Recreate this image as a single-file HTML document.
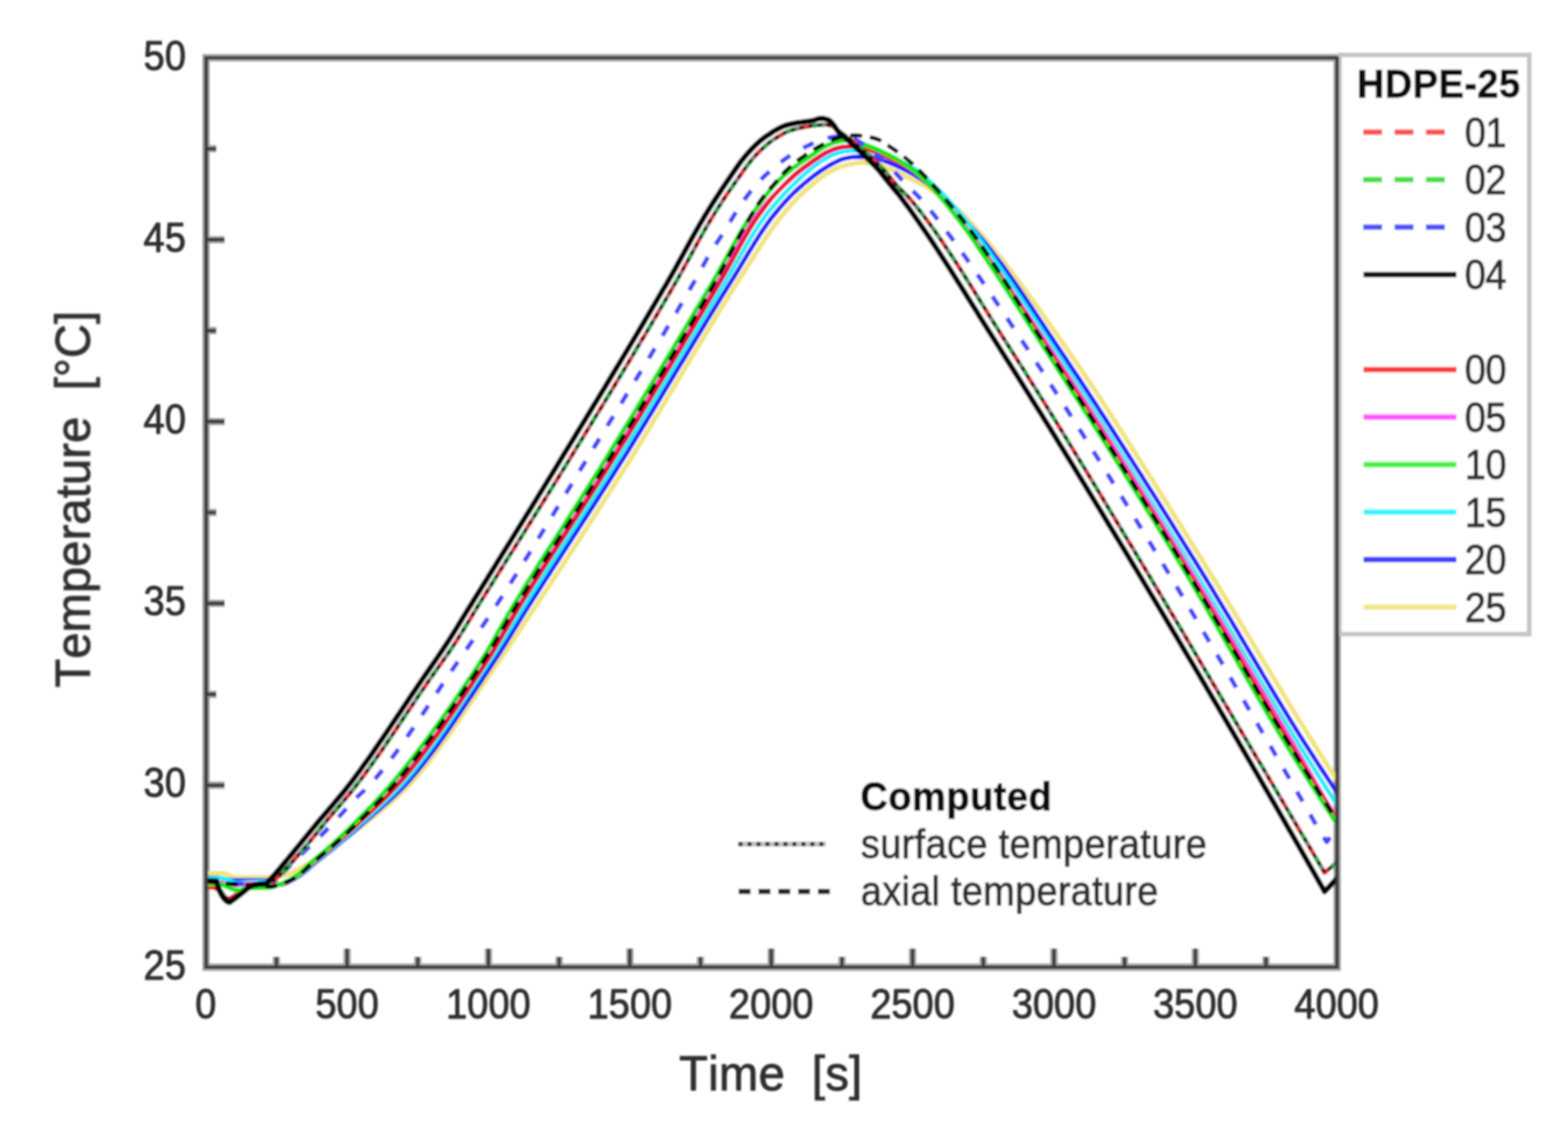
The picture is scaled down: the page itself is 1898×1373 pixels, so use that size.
<!DOCTYPE html>
<html lang="en">
<head>
<meta charset="utf-8">
<title>HDPE-25 temperature vs. time</title>
<style>
html,body{margin:0;padding:0;background:#fff;}
body{width:1898px;height:1373px;overflow:hidden;}
svg{display:block;}
svg text{font-family:"Liberation Sans",sans-serif;font-size:46px;fill:#2e2e2e;stroke:#2e2e2e;stroke-width:1.0px;stroke-linejoin:round;font-kerning:none;}
svg text.b{font-weight:bold;fill:#101010;stroke:#101010;stroke-width:0.8px;}
svg text.t{font-size:57px;}
.curves path{fill:none;stroke-linejoin:round;}
</style>
</head>
<body>
<svg width="1898" height="1373" viewBox="0 0 1898 1373">
<defs>
<clipPath id="plotclip"><rect x="249.5" y="65.0" width="1370.0" height="1106.0"/></clipPath>
<filter id="soft" x="-2%" y="-2%" width="104%" height="104%"><feGaussianBlur stdDeviation="1.25"/></filter>
</defs>
<rect x="0" y="0" width="1898" height="1373" fill="#fff"/>
<g filter="url(#soft)">
<g class="frame">
<rect x="249.5" y="70.0" width="1369.0" height="1101.0" fill="#fff" stroke="none"/>
<path d="M249.5 70.0 H1618.5 V1171.0 H249.5 Z M334.6 1171.0 v-12.5 M420.1 1171.0 v-22.5 M505.7 1171.0 v-12.5 M591.2 1171.0 v-22.5 M676.8 1171.0 v-12.5 M762.4 1171.0 v-22.5 M847.9 1171.0 v-12.5 M933.5 1171.0 v-22.5 M1019.1 1171.0 v-12.5 M1104.6 1171.0 v-22.5 M1190.2 1171.0 v-12.5 M1275.8 1171.0 v-22.5 M1361.3 1171.0 v-12.5 M1446.9 1171.0 v-22.5 M1532.4 1171.0 v-12.5 M249.5 1060.9 h12.5 M249.5 950.8 h22.5 M249.5 840.7 h12.5 M249.5 730.6 h22.5 M249.5 620.5 h12.5 M249.5 510.4 h22.5 M249.5 400.3 h12.5 M249.5 290.2 h22.5 M249.5 180.1 h12.5" stroke="#a2a2a2" stroke-width="9.0" fill="none"/>
<path d="M334.6 1171.0 v-12.5 M420.1 1171.0 v-22.5 M505.7 1171.0 v-12.5 M591.2 1171.0 v-22.5 M676.8 1171.0 v-12.5 M762.4 1171.0 v-22.5 M847.9 1171.0 v-12.5 M933.5 1171.0 v-22.5 M1019.1 1171.0 v-12.5 M1104.6 1171.0 v-22.5 M1190.2 1171.0 v-12.5 M1275.8 1171.0 v-22.5 M1361.3 1171.0 v-12.5 M1446.9 1171.0 v-22.5 M1532.4 1171.0 v-12.5 M249.5 1060.9 h12.5 M249.5 950.8 h22.5 M249.5 840.7 h12.5 M249.5 730.6 h22.5 M249.5 620.5 h12.5 M249.5 510.4 h22.5 M249.5 400.3 h12.5 M249.5 290.2 h22.5 M249.5 180.1 h12.5" stroke="#3a3a3a" stroke-width="4.2" fill="none"/>
</g>
<g class="legend">
<rect x="1621.5" y="66.5" width="229.5" height="701.3" fill="#fff" stroke="#c4c4c4" stroke-width="5.4"/>
<text transform="translate(1642.5 118.0) scale(1 1.035)" class="b" style="letter-spacing:0.55px">HDPE-25</text>
<path d="M1650 160.0 H1750" stroke="#ff5050" stroke-width="6.6" stroke-dasharray="23 15" fill="none"/>
<text transform="translate(1773.0 177.6) scale(1 1.085)" style="letter-spacing:-0.50px">01</text>
<path d="M1650 217.5 H1750" stroke="#44e044" stroke-width="6.6" stroke-dasharray="23 15" fill="none"/>
<text transform="translate(1773.0 235.1) scale(1 1.085)" style="letter-spacing:-0.50px">02</text>
<path d="M1650 275.0 H1750" stroke="#5050ff" stroke-width="6.6" stroke-dasharray="23 15" fill="none"/>
<text transform="translate(1773.0 292.6) scale(1 1.085)" style="letter-spacing:-0.50px">03</text>
<path d="M1650.5 332.5 H1763" stroke="#141414" stroke-width="6.6" fill="none"/>
<text transform="translate(1773.0 350.1) scale(1 1.085)" style="letter-spacing:-0.50px">04</text>
<path d="M1650.5 447.5 H1763" stroke="#ff3c3c" stroke-width="6.6" fill="none"/>
<text transform="translate(1773.0 465.1) scale(1 1.085)" style="letter-spacing:-0.50px">00</text>
<path d="M1650.5 505.0 H1763" stroke="#ff55ff" stroke-width="6.6" fill="none"/>
<text transform="translate(1773.0 522.6) scale(1 1.085)" style="letter-spacing:-0.50px">05</text>
<path d="M1650.5 562.5 H1763" stroke="#44f244" stroke-width="6.6" fill="none"/>
<text transform="translate(1773.0 580.1) scale(1 1.085)" style="letter-spacing:-0.50px">10</text>
<path d="M1650.5 620.0 H1763" stroke="#38f4ff" stroke-width="6.6" fill="none"/>
<text transform="translate(1773.0 637.6) scale(1 1.085)" style="letter-spacing:-0.50px">15</text>
<path d="M1650.5 677.5 H1763" stroke="#4040ff" stroke-width="6.6" fill="none"/>
<text transform="translate(1773.0 695.1) scale(1 1.085)" style="letter-spacing:-0.50px">20</text>
<path d="M1650.5 735.0 H1763" stroke="#f3e78c" stroke-width="6.6" fill="none"/>
<text transform="translate(1773.0 752.6) scale(1 1.085)" style="letter-spacing:-0.50px">25</text>
</g>
<g class="curves" clip-path="url(#plotclip)">
<path d="M249.5 1057.5 L252.5 1057.5 L255.5 1057.5 L258.5 1057.5 L261.5 1057.5 L264.5 1057.5 L267.5 1057.5 L270.5 1057.5 L273.5 1057.8 L276.5 1059.4 L279.5 1061.2 L282.5 1062.0 L285.5 1062.2 L288.5 1062.3 L291.5 1062.4 L294.5 1062.5 L297.6 1062.5 L300.6 1062.5 L303.6 1062.5 L306.6 1062.5 L309.6 1062.5 L312.6 1062.5 L315.6 1062.5 L318.6 1062.5 L321.6 1062.5 L324.6 1062.5 L327.6 1062.3 L330.6 1062.0 L333.6 1061.6 L336.6 1061.2 L339.6 1060.6 L342.6 1060.0 L345.6 1059.4 L348.6 1058.7 L351.6 1057.7 L354.6 1056.4 L357.6 1054.8 L360.6 1053.0 L363.6 1051.2 L366.6 1049.5 L369.6 1047.8 L372.6 1046.1 L375.6 1044.3 L378.6 1042.5 L381.6 1040.6 L384.6 1038.7 L387.7 1036.8 L390.7 1034.7 L393.7 1032.6 L396.7 1030.5 L399.7 1028.3 L402.7 1026.2 L405.7 1024.0 L408.7 1021.9 L411.7 1019.8 L414.7 1017.6 L417.7 1015.5 L420.7 1013.3 L423.7 1011.1 L426.7 1008.9 L429.7 1006.6 L432.7 1004.4 L435.7 1002.1 L438.7 999.8 L441.7 997.4 L444.7 995.0 L447.7 992.6 L450.7 990.2 L453.7 987.7 L456.7 985.3 L459.7 982.8 L462.7 980.3 L465.7 977.8 L468.7 975.2 L471.7 972.6 L474.7 970.0 L477.7 967.3 L480.8 964.5 L483.8 961.7 L486.8 958.8 L489.8 955.9 L492.8 952.8 L495.8 949.7 L498.8 946.5 L501.8 943.2 L504.8 939.8 L507.8 936.3 L510.8 932.7 L513.8 929.1 L516.8 925.4 L519.8 921.6 L522.8 917.7 L525.8 913.8 L528.8 909.8 L531.8 905.7 L534.8 901.6 L537.8 897.4 L540.8 893.2 L543.8 889.0 L546.8 884.7 L549.8 880.4 L552.8 876.0 L555.8 871.6 L558.8 867.2 L561.8 862.8 L564.8 858.3 L567.8 853.8 L570.9 849.4 L573.9 844.9 L576.9 840.4 L579.9 835.9 L582.9 831.4 L585.9 826.9 L588.9 822.5 L591.9 818.0 L594.9 813.6 L597.9 809.2 L600.9 804.8 L603.9 800.5 L606.9 796.1 L609.9 791.7 L612.9 787.3 L615.9 782.9 L618.9 778.4 L621.9 774.0 L624.9 769.5 L627.9 765.0 L630.9 760.4 L633.9 755.9 L636.9 751.4 L639.9 746.8 L642.9 742.2 L645.9 737.7 L648.9 733.1 L651.9 728.6 L654.9 724.0 L657.9 719.4 L660.9 714.9 L664.0 710.3 L667.0 705.7 L670.0 701.1 L673.0 696.5 L676.0 691.9 L679.0 687.3 L682.0 682.7 L685.0 678.1 L688.0 673.5 L691.0 668.9 L694.0 664.2 L697.0 659.6 L700.0 655.0 L703.0 650.3 L706.0 645.7 L709.0 641.0 L712.0 636.4 L715.0 631.7 L718.0 627.0 L721.0 622.3 L724.0 617.6 L727.0 612.9 L730.0 608.2 L733.0 603.5 L736.0 598.8 L739.0 594.1 L742.0 589.3 L745.0 584.6 L748.0 579.8 L751.0 575.1 L754.1 570.3 L757.1 565.5 L760.1 560.7 L763.1 555.9 L766.1 551.1 L769.1 546.2 L772.1 541.3 L775.1 536.4 L778.1 531.5 L781.1 526.6 L784.1 521.6 L787.1 516.6 L790.1 511.6 L793.1 506.6 L796.1 501.6 L799.1 496.6 L802.1 491.6 L805.1 486.5 L808.1 481.5 L811.1 476.4 L814.1 471.4 L817.1 466.3 L820.1 461.2 L823.1 456.2 L826.1 451.1 L829.1 446.1 L832.1 441.0 L835.1 435.9 L838.1 430.9 L841.1 425.9 L844.1 420.8 L847.2 415.8 L850.2 410.8 L853.2 405.8 L856.2 400.8 L859.2 395.8 L862.2 390.9 L865.2 385.9 L868.2 381.0 L871.2 376.1 L874.2 371.2 L877.2 366.4 L880.2 361.6 L883.2 356.8 L886.2 352.0 L889.2 347.2 L892.2 342.5 L895.2 337.8 L898.2 333.1 L901.2 328.3 L904.2 323.5 L907.2 318.7 L910.2 313.9 L913.2 309.2 L916.2 304.4 L919.2 299.7 L922.2 295.1 L925.2 290.5 L928.2 286.0 L931.2 281.6 L934.2 277.3 L937.3 273.1 L940.3 269.0 L943.3 265.1 L946.3 261.3 L949.3 257.6 L952.3 254.0 L955.3 250.6 L958.3 247.2 L961.3 243.9 L964.3 240.8 L967.3 237.8 L970.3 234.9 L973.3 232.1 L976.3 229.5 L979.3 226.8 L982.3 224.2 L985.3 221.7 L988.3 219.2 L991.3 216.8 L994.3 214.6 L997.3 212.4 L1000.3 210.4 L1003.3 208.6 L1006.3 206.9 L1009.3 205.4 L1012.3 204.1 L1015.3 202.8 L1018.3 201.7 L1021.3 200.7 L1024.3 199.9 L1027.4 199.2 L1030.4 198.6 L1033.4 198.0 L1036.4 197.5 L1039.4 197.2 L1042.4 197.0 L1045.4 197.0 L1048.4 197.2 L1051.4 197.4 L1054.4 197.6 L1057.4 198.0 L1060.4 198.7 L1063.4 199.6 L1066.4 200.7 L1069.4 201.8 L1072.4 202.9 L1075.4 204.0 L1078.4 205.2 L1081.4 206.5 L1084.4 207.8 L1087.4 209.2 L1090.4 210.6 L1093.4 212.1 L1096.4 213.6 L1099.4 215.2 L1102.4 216.7 L1105.4 218.2 L1108.4 219.7 L1111.4 221.1 L1114.4 222.6 L1117.4 224.1 L1120.5 225.6 L1123.5 227.3 L1126.5 229.1 L1129.5 231.0 L1132.5 233.0 L1135.5 235.1 L1138.5 237.2 L1141.5 239.3 L1144.5 241.5 L1147.5 243.8 L1150.5 246.1 L1153.5 248.5 L1156.5 251.0 L1159.5 253.6 L1162.5 256.4 L1165.5 259.3 L1168.5 262.4 L1171.5 265.6 L1174.5 269.0 L1177.5 272.4 L1180.5 275.9 L1183.5 279.3 L1186.5 282.7 L1189.5 286.0 L1192.5 289.3 L1195.5 292.7 L1198.5 296.3 L1201.5 300.0 L1204.5 303.7 L1207.5 307.4 L1210.6 311.1 L1213.6 315.0 L1216.6 318.8 L1219.6 322.7 L1222.6 326.6 L1225.6 330.5 L1228.6 334.5 L1231.6 338.5 L1234.6 342.5 L1237.6 346.6 L1240.6 350.7 L1243.6 354.8 L1246.6 358.9 L1249.6 363.1 L1252.6 367.2 L1255.6 371.4 L1258.6 375.6 L1261.6 379.9 L1264.6 384.1 L1267.6 388.4 L1270.6 392.6 L1273.6 396.9 L1276.6 401.2 L1279.6 405.5 L1282.6 409.8 L1285.6 414.1 L1288.6 418.5 L1291.6 422.8 L1294.6 427.1 L1297.6 431.5 L1300.6 435.9 L1303.7 440.3 L1306.7 444.7 L1309.7 449.2 L1312.7 453.7 L1315.7 458.1 L1318.7 462.6 L1321.7 467.2 L1324.7 471.7 L1327.7 476.3 L1330.7 480.8 L1333.7 485.4 L1336.7 490.0 L1339.7 494.6 L1342.7 499.2 L1345.7 503.9 L1348.7 508.5 L1351.7 513.2 L1354.7 517.9 L1357.7 522.6 L1360.7 527.3 L1363.7 532.0 L1366.7 536.7 L1369.7 541.4 L1372.7 546.2 L1375.7 550.9 L1378.7 555.7 L1381.7 560.4 L1384.7 565.2 L1387.7 570.0 L1390.7 574.8 L1393.8 579.6 L1396.8 584.4 L1399.8 589.2 L1402.8 594.0 L1405.8 598.8 L1408.8 603.6 L1411.8 608.4 L1414.8 613.3 L1417.8 618.1 L1420.8 622.9 L1423.8 627.7 L1426.8 632.6 L1429.8 637.4 L1432.8 642.2 L1435.8 647.1 L1438.8 651.9 L1441.8 656.7 L1444.8 661.5 L1447.8 666.4 L1450.8 671.2 L1453.8 676.0 L1456.8 680.8 L1459.8 685.7 L1462.8 690.5 L1465.8 695.4 L1468.8 700.2 L1471.8 705.1 L1474.8 710.0 L1477.8 714.9 L1480.8 719.9 L1483.8 724.8 L1486.9 729.8 L1489.9 734.7 L1492.9 739.7 L1495.9 744.7 L1498.9 749.6 L1501.9 754.6 L1504.9 759.6 L1507.9 764.6 L1510.9 769.6 L1513.9 774.6 L1516.9 779.6 L1519.9 784.7 L1522.9 789.7 L1525.9 794.7 L1528.9 799.7 L1531.9 804.7 L1534.9 809.7 L1537.9 814.7 L1540.9 819.7 L1543.9 824.7 L1546.9 829.7 L1549.9 834.6 L1552.9 839.6 L1555.9 844.6 L1558.9 849.5 L1561.9 854.5 L1564.9 859.4 L1567.9 864.3 L1570.9 869.2 L1573.9 874.1 L1577.0 879.0 L1580.0 883.8 L1583.0 888.7 L1586.0 893.5 L1589.0 898.3 L1592.0 903.1 L1595.0 907.9 L1598.0 912.7 L1601.0 917.4 L1604.0 922.2 L1607.0 926.9 L1610.0 931.5 L1613.0 936.2 L1616.0 940.8 L1619.0 945.3 L1622.0 949.8" stroke="#f2e47e" stroke-width="5.8" stroke-linecap="butt"/>
<path d="M249.5 1062.5 L252.5 1062.5 L255.5 1062.6 L258.5 1062.8 L261.5 1063.0 L264.5 1063.2 L267.5 1063.7 L270.5 1064.2 L273.5 1064.7 L276.5 1065.2 L279.5 1065.5 L282.5 1065.6 L285.5 1065.7 L288.5 1065.8 L291.5 1065.9 L294.5 1066.0 L297.6 1066.0 L300.6 1066.0 L303.6 1066.0 L306.6 1066.0 L309.6 1066.0 L312.6 1066.0 L315.6 1066.0 L318.6 1066.0 L321.6 1066.0 L324.6 1066.0 L327.6 1066.0 L330.6 1067.0 L333.6 1068.8 L336.6 1070.4 L339.6 1071.0 L342.6 1070.7 L345.6 1069.8 L348.6 1068.6 L351.6 1067.0 L354.6 1065.3 L357.6 1063.6 L360.6 1061.8 L363.6 1059.9 L366.6 1057.7 L369.6 1055.3 L372.6 1052.7 L375.6 1050.1 L378.6 1047.4 L381.6 1044.9 L384.6 1042.5 L387.7 1040.1 L390.7 1037.7 L393.7 1035.3 L396.7 1033.0 L399.7 1030.6 L402.7 1028.2 L405.7 1025.8 L408.7 1023.3 L411.7 1020.8 L414.7 1018.3 L417.7 1015.8 L420.7 1013.3 L423.7 1010.7 L426.7 1008.1 L429.7 1005.5 L432.7 1002.9 L435.7 1000.2 L438.7 997.6 L441.7 994.9 L444.7 992.3 L447.7 989.7 L450.7 987.1 L453.7 984.5 L456.7 982.0 L459.7 979.4 L462.7 976.8 L465.7 974.1 L468.7 971.5 L471.7 968.8 L474.7 966.0 L477.7 963.2 L480.8 960.3 L483.8 957.3 L486.8 954.3 L489.8 951.1 L492.8 947.9 L495.8 944.5 L498.8 941.1 L501.8 937.6 L504.8 934.0 L507.8 930.4 L510.8 926.7 L513.8 922.9 L516.8 919.0 L519.8 915.1 L522.8 911.2 L525.8 907.1 L528.8 903.1 L531.8 898.9 L534.8 894.7 L537.8 890.5 L540.8 886.2 L543.8 881.9 L546.8 877.6 L549.8 873.2 L552.8 868.8 L555.8 864.4 L558.8 859.9 L561.8 855.4 L564.8 850.9 L567.8 846.4 L570.9 841.9 L573.9 837.3 L576.9 832.8 L579.9 828.2 L582.9 823.7 L585.9 819.1 L588.9 814.5 L591.9 810.0 L594.9 805.5 L597.9 800.9 L600.9 796.4 L603.9 791.8 L606.9 787.1 L609.9 782.3 L612.9 777.5 L615.9 772.7 L618.9 767.8 L621.9 762.9 L624.9 758.0 L627.9 753.1 L630.9 748.3 L633.9 743.4 L636.9 738.6 L639.9 733.9 L642.9 729.1 L645.9 724.4 L648.9 719.7 L651.9 715.0 L654.9 710.3 L657.9 705.6 L660.9 700.9 L664.0 696.3 L667.0 691.6 L670.0 686.9 L673.0 682.3 L676.0 677.7 L679.0 673.0 L682.0 668.4 L685.0 663.7 L688.0 659.1 L691.0 654.5 L694.0 649.8 L697.0 645.2 L700.0 640.6 L703.0 635.9 L706.0 631.3 L709.0 626.7 L712.0 622.0 L715.0 617.3 L718.0 612.7 L721.0 608.0 L724.0 603.3 L727.0 598.6 L730.0 593.9 L733.0 589.2 L736.0 584.5 L739.0 579.8 L742.0 575.0 L745.0 570.3 L748.0 565.5 L751.0 560.7 L754.1 555.9 L757.1 551.1 L760.1 546.3 L763.1 541.4 L766.1 536.5 L769.1 531.6 L772.1 526.7 L775.1 521.8 L778.1 516.9 L781.1 512.0 L784.1 507.0 L787.1 502.1 L790.1 497.1 L793.1 492.2 L796.1 487.2 L799.1 482.2 L802.1 477.2 L805.1 472.2 L808.1 467.2 L811.1 462.2 L814.1 457.2 L817.1 452.2 L820.1 447.2 L823.1 442.2 L826.1 437.3 L829.1 432.3 L832.1 427.3 L835.1 422.3 L838.1 417.3 L841.1 412.3 L844.1 407.3 L847.2 402.4 L850.2 397.4 L853.2 392.5 L856.2 387.5 L859.2 382.6 L862.2 377.7 L865.2 372.8 L868.2 367.9 L871.2 363.0 L874.2 358.2 L877.2 353.3 L880.2 348.5 L883.2 343.7 L886.2 338.9 L889.2 334.0 L892.2 329.1 L895.2 324.2 L898.2 319.2 L901.2 314.2 L904.2 309.2 L907.2 304.2 L910.2 299.3 L913.2 294.4 L916.2 289.6 L919.2 284.9 L922.2 280.3 L925.2 275.9 L928.2 271.6 L931.2 267.4 L934.2 263.4 L937.3 259.7 L940.3 256.0 L943.3 252.4 L946.3 248.9 L949.3 245.5 L952.3 242.2 L955.3 239.0 L958.3 236.0 L961.3 233.0 L964.3 230.2 L967.3 227.5 L970.3 224.9 L973.3 222.3 L976.3 219.9 L979.3 217.4 L982.3 215.0 L985.3 212.7 L988.3 210.5 L991.3 208.3 L994.3 206.3 L997.3 204.3 L1000.3 202.4 L1003.3 200.6 L1006.3 198.9 L1009.3 197.3 L1012.3 195.8 L1015.3 194.3 L1018.3 193.1 L1021.3 192.2 L1024.3 191.5 L1027.4 190.9 L1030.4 190.4 L1033.4 190.1 L1036.4 190.0 L1039.4 190.0 L1042.4 190.1 L1045.4 190.1 L1048.4 190.2 L1051.4 190.4 L1054.4 190.7 L1057.4 191.3 L1060.4 192.0 L1063.4 192.8 L1066.4 193.6 L1069.4 194.5 L1072.4 195.5 L1075.4 196.6 L1078.4 197.8 L1081.4 199.1 L1084.4 200.4 L1087.4 201.8 L1090.4 203.2 L1093.4 204.6 L1096.4 206.1 L1099.4 207.7 L1102.4 209.3 L1105.4 211.0 L1108.4 212.8 L1111.4 214.7 L1114.4 216.6 L1117.4 218.6 L1120.5 220.7 L1123.5 222.9 L1126.5 225.2 L1129.5 227.6 L1132.5 230.0 L1135.5 232.5 L1138.5 235.1 L1141.5 237.9 L1144.5 240.6 L1147.5 243.5 L1150.5 246.5 L1153.5 249.6 L1156.5 252.8 L1159.5 256.2 L1162.5 259.6 L1165.5 263.0 L1168.5 266.5 L1171.5 270.0 L1174.5 273.4 L1177.5 276.7 L1180.5 280.1 L1183.5 283.4 L1186.5 286.9 L1189.5 290.4 L1192.5 294.0 L1195.5 297.8 L1198.5 301.6 L1201.5 305.5 L1204.5 309.5 L1207.5 313.5 L1210.6 317.5 L1213.6 321.6 L1216.6 325.8 L1219.6 330.0 L1222.6 334.2 L1225.6 338.5 L1228.6 342.8 L1231.6 347.1 L1234.6 351.5 L1237.6 355.9 L1240.6 360.3 L1243.6 364.8 L1246.6 369.2 L1249.6 373.7 L1252.6 378.2 L1255.6 382.7 L1258.6 387.2 L1261.6 391.7 L1264.6 396.2 L1267.6 400.7 L1270.6 405.2 L1273.6 409.7 L1276.6 414.2 L1279.6 418.7 L1282.6 423.2 L1285.6 427.7 L1288.6 432.1 L1291.6 436.6 L1294.6 441.2 L1297.6 445.7 L1300.6 450.2 L1303.7 454.8 L1306.7 459.3 L1309.7 463.9 L1312.7 468.4 L1315.7 473.0 L1318.7 477.6 L1321.7 482.2 L1324.7 486.8 L1327.7 491.4 L1330.7 496.1 L1333.7 500.7 L1336.7 505.3 L1339.7 510.0 L1342.7 514.6 L1345.7 519.3 L1348.7 524.0 L1351.7 528.7 L1354.7 533.4 L1357.7 538.0 L1360.7 542.7 L1363.7 547.5 L1366.7 552.2 L1369.7 556.9 L1372.7 561.6 L1375.7 566.4 L1378.7 571.1 L1381.7 575.8 L1384.7 580.6 L1387.7 585.4 L1390.7 590.1 L1393.8 594.9 L1396.8 599.7 L1399.8 604.4 L1402.8 609.2 L1405.8 614.0 L1408.8 618.8 L1411.8 623.6 L1414.8 628.4 L1417.8 633.2 L1420.8 638.0 L1423.8 642.8 L1426.8 647.7 L1429.8 652.5 L1432.8 657.3 L1435.8 662.1 L1438.8 667.0 L1441.8 671.8 L1444.8 676.6 L1447.8 681.5 L1450.8 686.3 L1453.8 691.2 L1456.8 696.1 L1459.8 701.0 L1462.8 706.0 L1465.8 710.9 L1468.8 715.9 L1471.8 720.9 L1474.8 725.9 L1477.8 730.9 L1480.8 735.9 L1483.8 741.0 L1486.9 746.0 L1489.9 751.0 L1492.9 756.1 L1495.9 761.2 L1498.9 766.2 L1501.9 771.3 L1504.9 776.4 L1507.9 781.5 L1510.9 786.6 L1513.9 791.6 L1516.9 796.7 L1519.9 801.8 L1522.9 806.8 L1525.9 811.9 L1528.9 817.0 L1531.9 822.0 L1534.9 827.0 L1537.9 832.1 L1540.9 837.1 L1543.9 842.1 L1546.9 847.1 L1549.9 852.0 L1552.9 857.0 L1555.9 861.9 L1558.9 866.9 L1561.9 871.8 L1564.9 876.7 L1567.9 881.5 L1570.9 886.4 L1573.9 891.2 L1577.0 896.0 L1580.0 900.7 L1583.0 905.4 L1586.0 910.1 L1589.0 914.8 L1592.0 919.4 L1595.0 924.1 L1598.0 928.7 L1601.0 933.2 L1604.0 937.8 L1607.0 942.4 L1610.0 946.9 L1613.0 951.4 L1616.0 956.0 L1619.0 960.5 L1622.0 965.0" stroke="#1c1cff" stroke-width="5.3" stroke-linecap="butt"/>
<path d="M249.5 1063.5 L252.5 1063.5 L255.5 1063.5 L258.5 1063.5 L261.5 1063.5 L264.5 1063.5 L267.5 1063.5 L270.5 1063.6 L273.5 1064.3 L276.5 1065.5 L279.5 1066.8 L282.5 1068.1 L285.5 1068.8 L288.5 1069.0 L291.5 1068.8 L294.5 1068.5 L297.6 1068.2 L300.6 1068.0 L303.6 1067.9 L306.6 1067.8 L309.6 1067.7 L312.6 1067.7 L315.6 1067.6 L318.6 1067.6 L321.6 1067.5 L324.6 1067.5 L327.6 1067.5 L330.6 1068.3 L333.6 1069.5 L336.6 1070.7 L339.6 1071.0 L342.6 1070.5 L345.6 1069.6 L348.6 1068.3 L351.6 1066.7 L354.6 1064.9 L357.6 1063.1 L360.6 1061.3 L363.6 1059.2 L366.6 1056.9 L369.6 1054.3 L372.6 1051.6 L375.6 1048.9 L378.6 1046.3 L381.6 1043.8 L384.6 1041.3 L387.7 1038.9 L390.7 1036.5 L393.7 1034.0 L396.7 1031.6 L399.7 1029.2 L402.7 1026.7 L405.7 1024.2 L408.7 1021.7 L411.7 1019.2 L414.7 1016.6 L417.7 1013.9 L420.7 1011.3 L423.7 1008.6 L426.7 1005.9 L429.7 1003.1 L432.7 1000.4 L435.7 997.6 L438.7 994.9 L441.7 992.2 L444.7 989.5 L447.7 986.8 L450.7 984.1 L453.7 981.4 L456.7 978.7 L459.7 976.0 L462.7 973.2 L465.7 970.4 L468.7 967.6 L471.7 964.7 L474.7 961.8 L477.7 958.8 L480.8 955.6 L483.8 952.5 L486.8 949.2 L489.8 945.8 L492.8 942.3 L495.8 938.8 L498.8 935.2 L501.8 931.5 L504.8 927.7 L507.8 923.9 L510.8 920.0 L513.8 916.1 L516.8 912.1 L519.8 908.0 L522.8 903.9 L525.8 899.8 L528.8 895.6 L531.8 891.3 L534.8 887.0 L537.8 882.7 L540.8 878.3 L543.8 873.9 L546.8 869.5 L549.8 865.0 L552.8 860.6 L555.8 856.1 L558.8 851.6 L561.8 847.0 L564.8 842.5 L567.8 837.9 L570.9 833.3 L573.9 828.8 L576.9 824.2 L579.9 819.6 L582.9 815.1 L585.9 810.5 L588.9 805.9 L591.9 801.4 L594.9 796.8 L597.9 792.2 L600.9 787.5 L603.9 782.8 L606.9 778.0 L609.9 773.2 L612.9 768.3 L615.9 763.4 L618.9 758.5 L621.9 753.7 L624.9 748.8 L627.9 743.9 L630.9 739.1 L633.9 734.3 L636.9 729.6 L639.9 724.8 L642.9 720.1 L645.9 715.4 L648.9 710.7 L651.9 706.0 L654.9 701.2 L657.9 696.6 L660.9 691.9 L664.0 687.2 L667.0 682.5 L670.0 677.8 L673.0 673.1 L676.0 668.5 L679.0 663.8 L682.0 659.1 L685.0 654.5 L688.0 649.8 L691.0 645.1 L694.0 640.4 L697.0 635.8 L700.0 631.1 L703.0 626.4 L706.0 621.7 L709.0 617.0 L712.0 612.3 L715.0 607.6 L718.0 602.9 L721.0 598.1 L724.0 593.4 L727.0 588.7 L730.0 583.9 L733.0 579.1 L736.0 574.4 L739.0 569.6 L742.0 564.8 L745.0 559.9 L748.0 555.1 L751.0 550.3 L754.1 545.4 L757.1 540.5 L760.1 535.7 L763.1 530.8 L766.1 525.9 L769.1 521.0 L772.1 516.0 L775.1 511.1 L778.1 506.2 L781.1 501.2 L784.1 496.3 L787.1 491.3 L790.1 486.4 L793.1 481.4 L796.1 476.4 L799.1 471.5 L802.1 466.5 L805.1 461.5 L808.1 456.5 L811.1 451.5 L814.1 446.5 L817.1 441.5 L820.1 436.5 L823.1 431.5 L826.1 426.5 L829.1 421.6 L832.1 416.6 L835.1 411.6 L838.1 406.6 L841.1 401.6 L844.1 396.6 L847.2 391.6 L850.2 386.6 L853.2 381.6 L856.2 376.7 L859.2 371.7 L862.2 366.7 L865.2 361.8 L868.2 356.8 L871.2 351.9 L874.2 346.9 L877.2 342.0 L880.2 337.0 L883.2 332.0 L886.2 326.9 L889.2 321.7 L892.2 316.5 L895.2 311.2 L898.2 306.0 L901.2 300.8 L904.2 295.6 L907.2 290.6 L910.2 285.6 L913.2 280.8 L916.2 276.1 L919.2 271.6 L922.2 267.2 L925.2 263.1 L928.2 259.2 L931.2 255.4 L934.2 251.8 L937.3 248.2 L940.3 244.7 L943.3 241.3 L946.3 237.9 L949.3 234.7 L952.3 231.6 L955.3 228.5 L958.3 225.5 L961.3 222.6 L964.3 219.8 L967.3 217.0 L970.3 214.3 L973.3 211.6 L976.3 209.0 L979.3 206.5 L982.3 204.0 L985.3 201.6 L988.3 199.3 L991.3 197.1 L994.3 195.1 L997.3 193.2 L1000.3 191.4 L1003.3 189.8 L1006.3 188.2 L1009.3 186.9 L1012.3 185.9 L1015.3 185.0 L1018.3 184.2 L1021.3 183.6 L1024.3 183.1 L1027.4 182.9 L1030.4 182.7 L1033.4 182.6 L1036.4 182.5 L1039.4 182.5 L1042.4 182.6 L1045.4 182.9 L1048.4 183.4 L1051.4 184.0 L1054.4 184.6 L1057.4 185.2 L1060.4 186.0 L1063.4 186.8 L1066.4 187.8 L1069.4 188.7 L1072.4 189.8 L1075.4 190.8 L1078.4 191.9 L1081.4 193.0 L1084.4 194.1 L1087.4 195.2 L1090.4 196.3 L1093.4 197.5 L1096.4 198.8 L1099.4 200.2 L1102.4 201.7 L1105.4 203.3 L1108.4 205.1 L1111.4 207.3 L1114.4 209.8 L1117.4 212.4 L1120.5 215.1 L1123.5 217.9 L1126.5 220.6 L1129.5 223.3 L1132.5 226.2 L1135.5 229.1 L1138.5 232.1 L1141.5 235.2 L1144.5 238.3 L1147.5 241.6 L1150.5 244.9 L1153.5 248.3 L1156.5 251.8 L1159.5 255.3 L1162.5 258.9 L1165.5 262.6 L1168.5 266.4 L1171.5 270.2 L1174.5 274.2 L1177.5 278.2 L1180.5 282.3 L1183.5 286.4 L1186.5 290.5 L1189.5 294.7 L1192.5 298.9 L1195.5 303.1 L1198.5 307.3 L1201.5 311.6 L1204.5 315.9 L1207.5 320.2 L1210.6 324.5 L1213.6 328.9 L1216.6 333.2 L1219.6 337.6 L1222.6 342.0 L1225.6 346.5 L1228.6 350.9 L1231.6 355.4 L1234.6 359.8 L1237.6 364.3 L1240.6 368.8 L1243.6 373.3 L1246.6 377.8 L1249.6 382.4 L1252.6 386.9 L1255.6 391.5 L1258.6 396.0 L1261.6 400.6 L1264.6 405.1 L1267.6 409.7 L1270.6 414.2 L1273.6 418.8 L1276.6 423.4 L1279.6 428.0 L1282.6 432.5 L1285.6 437.1 L1288.6 441.7 L1291.6 446.4 L1294.6 451.0 L1297.6 455.6 L1300.6 460.2 L1303.7 464.9 L1306.7 469.5 L1309.7 474.2 L1312.7 478.9 L1315.7 483.5 L1318.7 488.2 L1321.7 492.9 L1324.7 497.6 L1327.7 502.3 L1330.7 507.0 L1333.7 511.7 L1336.7 516.4 L1339.7 521.2 L1342.7 525.9 L1345.7 530.6 L1348.7 535.4 L1351.7 540.1 L1354.7 544.9 L1357.7 549.6 L1360.7 554.4 L1363.7 559.2 L1366.7 564.0 L1369.7 568.7 L1372.7 573.5 L1375.7 578.3 L1378.7 583.1 L1381.7 587.9 L1384.7 592.7 L1387.7 597.5 L1390.7 602.3 L1393.8 607.2 L1396.8 612.0 L1399.8 616.8 L1402.8 621.6 L1405.8 626.5 L1408.8 631.3 L1411.8 636.1 L1414.8 641.0 L1417.8 645.8 L1420.8 650.7 L1423.8 655.5 L1426.8 660.4 L1429.8 665.2 L1432.8 670.1 L1435.8 675.0 L1438.8 679.8 L1441.8 684.7 L1444.8 689.6 L1447.8 694.5 L1450.8 699.4 L1453.8 704.4 L1456.8 709.3 L1459.8 714.3 L1462.8 719.2 L1465.8 724.2 L1468.8 729.2 L1471.8 734.2 L1474.8 739.2 L1477.8 744.2 L1480.8 749.2 L1483.8 754.2 L1486.9 759.3 L1489.9 764.3 L1492.9 769.3 L1495.9 774.4 L1498.9 779.4 L1501.9 784.5 L1504.9 789.5 L1507.9 794.6 L1510.9 799.6 L1513.9 804.6 L1516.9 809.7 L1519.9 814.7 L1522.9 819.8 L1525.9 824.8 L1528.9 829.8 L1531.9 834.8 L1534.9 839.8 L1537.9 844.8 L1540.9 849.8 L1543.9 854.8 L1546.9 859.8 L1549.9 864.7 L1552.9 869.7 L1555.9 874.6 L1558.9 879.5 L1561.9 884.5 L1564.9 889.4 L1567.9 894.2 L1570.9 899.1 L1573.9 904.0 L1577.0 908.8 L1580.0 913.6 L1583.0 918.5 L1586.0 923.3 L1589.0 928.1 L1592.0 932.9 L1595.0 937.7 L1598.0 942.5 L1601.0 947.2 L1604.0 952.0 L1607.0 956.7 L1610.0 961.3 L1613.0 966.0 L1616.0 970.6 L1619.0 975.1 L1622.0 979.6" stroke="#14f0ff" stroke-width="5.3" stroke-linecap="butt"/>
<path d="M249.5 1068.0 L252.5 1068.0 L255.5 1068.1 L258.5 1068.2 L261.5 1068.3 L264.5 1068.5 L267.5 1068.9 L270.5 1069.7 L273.5 1070.7 L276.5 1071.6 L279.5 1072.0 L282.5 1071.9 L285.5 1071.7 L288.5 1071.3 L291.5 1070.9 L294.5 1070.5 L297.6 1070.1 L300.6 1070.0 L303.6 1069.9 L306.6 1069.8 L309.6 1069.7 L312.6 1069.7 L315.6 1069.6 L318.6 1069.6 L321.6 1069.5 L324.6 1069.5 L327.6 1069.5 L330.6 1069.9 L333.6 1070.4 L336.6 1070.9 L339.6 1070.9 L342.6 1070.3 L345.6 1069.2 L348.6 1067.7 L351.6 1065.9 L354.6 1064.0 L357.6 1062.1 L360.6 1060.1 L363.6 1057.7 L366.6 1055.0 L369.6 1052.2 L372.6 1049.3 L375.6 1046.5 L378.6 1043.9 L381.6 1041.3 L384.6 1038.8 L387.7 1036.2 L390.7 1033.7 L393.7 1031.2 L396.7 1028.6 L399.7 1026.1 L402.7 1023.5 L405.7 1020.9 L408.7 1018.3 L411.7 1015.7 L414.7 1013.0 L417.7 1010.4 L420.7 1007.7 L423.7 1005.0 L426.7 1002.3 L429.7 999.6 L432.7 996.8 L435.7 993.9 L438.7 991.1 L441.7 988.2 L444.7 985.4 L447.7 982.5 L450.7 979.6 L453.7 976.6 L456.7 973.7 L459.7 970.7 L462.7 967.6 L465.7 964.5 L468.7 961.3 L471.7 958.1 L474.7 954.8 L477.7 951.4 L480.8 948.0 L483.8 944.5 L486.8 940.9 L489.8 937.3 L492.8 933.7 L495.8 930.0 L498.8 926.2 L501.8 922.4 L504.8 918.6 L507.8 914.7 L510.8 910.8 L513.8 906.8 L516.8 902.8 L519.8 898.7 L522.8 894.6 L525.8 890.5 L528.8 886.3 L531.8 882.1 L534.8 877.9 L537.8 873.6 L540.8 869.3 L543.8 865.0 L546.8 860.6 L549.8 856.2 L552.8 851.8 L555.8 847.3 L558.8 842.9 L561.8 838.4 L564.8 833.9 L567.8 829.3 L570.9 824.8 L573.9 820.2 L576.9 815.6 L579.9 811.0 L582.9 806.4 L585.9 801.8 L588.9 797.1 L591.9 792.3 L594.9 787.3 L597.9 782.3 L600.9 777.2 L603.9 772.0 L606.9 766.8 L609.9 761.6 L612.9 756.4 L615.9 751.2 L618.9 746.0 L621.9 741.0 L624.9 736.0 L627.9 731.1 L630.9 726.2 L633.9 721.3 L636.9 716.5 L639.9 711.7 L642.9 706.9 L645.9 702.1 L648.9 697.4 L651.9 692.6 L654.9 687.9 L657.9 683.2 L660.9 678.5 L664.0 673.8 L667.0 669.2 L670.0 664.5 L673.0 659.9 L676.0 655.2 L679.0 650.6 L682.0 645.9 L685.0 641.3 L688.0 636.6 L691.0 632.0 L694.0 627.4 L697.0 622.7 L700.0 618.1 L703.0 613.4 L706.0 608.7 L709.0 604.0 L712.0 599.4 L715.0 594.6 L718.0 589.9 L721.0 585.2 L724.0 580.4 L727.0 575.7 L730.0 570.9 L733.0 566.1 L736.0 561.2 L739.0 556.4 L742.0 551.5 L745.0 546.6 L748.0 541.8 L751.0 536.9 L754.1 532.0 L757.1 527.1 L760.1 522.1 L763.1 517.2 L766.1 512.3 L769.1 507.3 L772.1 502.4 L775.1 497.4 L778.1 492.5 L781.1 487.5 L784.1 482.5 L787.1 477.5 L790.1 472.5 L793.1 467.5 L796.1 462.5 L799.1 457.5 L802.1 452.5 L805.1 447.5 L808.1 442.5 L811.1 437.4 L814.1 432.4 L817.1 427.4 L820.1 422.3 L823.1 417.3 L826.1 412.2 L829.1 407.2 L832.1 402.1 L835.1 397.1 L838.1 392.0 L841.1 387.0 L844.1 381.9 L847.2 376.9 L850.2 371.8 L853.2 366.7 L856.2 361.7 L859.2 356.6 L862.2 351.5 L865.2 346.5 L868.2 341.4 L871.2 336.3 L874.2 331.0 L877.2 325.7 L880.2 320.2 L883.2 314.7 L886.2 309.2 L889.2 303.7 L892.2 298.2 L895.2 292.8 L898.2 287.5 L901.2 282.4 L904.2 277.5 L907.2 272.7 L910.2 268.2 L913.2 264.0 L916.2 260.0 L919.2 256.2 L922.2 252.6 L925.2 249.0 L928.2 245.6 L931.2 242.3 L934.2 239.0 L937.3 235.9 L940.3 232.8 L943.3 229.9 L946.3 227.0 L949.3 224.1 L952.3 221.4 L955.3 218.6 L958.3 216.0 L961.3 213.3 L964.3 210.8 L967.3 208.3 L970.3 205.9 L973.3 203.6 L976.3 201.4 L979.3 199.2 L982.3 197.0 L985.3 195.0 L988.3 192.9 L991.3 190.9 L994.3 188.8 L997.3 187.0 L1000.3 185.2 L1003.3 183.8 L1006.3 182.5 L1009.3 181.3 L1012.3 180.2 L1015.3 179.3 L1018.3 178.6 L1021.3 178.2 L1024.3 177.9 L1027.4 177.7 L1030.4 177.6 L1033.4 177.5 L1036.4 177.5 L1039.4 177.9 L1042.4 178.6 L1045.4 179.5 L1048.4 180.3 L1051.4 181.2 L1054.4 182.1 L1057.4 183.2 L1060.4 184.3 L1063.4 185.5 L1066.4 186.8 L1069.4 188.1 L1072.4 189.4 L1075.4 190.7 L1078.4 192.0 L1081.4 193.3 L1084.4 194.7 L1087.4 196.1 L1090.4 197.6 L1093.4 199.1 L1096.4 200.8 L1099.4 202.5 L1102.4 204.4 L1105.4 206.5 L1108.4 208.7 L1111.4 211.1 L1114.4 213.7 L1117.4 216.3 L1120.5 219.0 L1123.5 221.8 L1126.5 224.8 L1129.5 228.0 L1132.5 231.3 L1135.5 234.7 L1138.5 238.1 L1141.5 241.5 L1144.5 245.0 L1147.5 248.5 L1150.5 252.1 L1153.5 255.7 L1156.5 259.4 L1159.5 263.1 L1162.5 266.9 L1165.5 270.7 L1168.5 274.6 L1171.5 278.5 L1174.5 282.5 L1177.5 286.5 L1180.5 290.6 L1183.5 294.7 L1186.5 298.8 L1189.5 303.0 L1192.5 307.2 L1195.5 311.3 L1198.5 315.6 L1201.5 319.8 L1204.5 324.0 L1207.5 328.3 L1210.6 332.6 L1213.6 336.9 L1216.6 341.2 L1219.6 345.6 L1222.6 349.9 L1225.6 354.3 L1228.6 358.7 L1231.6 363.1 L1234.6 367.5 L1237.6 371.9 L1240.6 376.3 L1243.6 380.8 L1246.6 385.2 L1249.6 389.7 L1252.6 394.2 L1255.6 398.7 L1258.6 403.2 L1261.6 407.7 L1264.6 412.2 L1267.6 416.7 L1270.6 421.2 L1273.6 425.8 L1276.6 430.3 L1279.6 434.9 L1282.6 439.4 L1285.6 444.0 L1288.6 448.6 L1291.6 453.2 L1294.6 457.8 L1297.6 462.4 L1300.6 467.0 L1303.7 471.6 L1306.7 476.3 L1309.7 480.9 L1312.7 485.6 L1315.7 490.3 L1318.7 494.9 L1321.7 499.6 L1324.7 504.3 L1327.7 509.0 L1330.7 513.7 L1333.7 518.4 L1336.7 523.1 L1339.7 527.9 L1342.7 532.6 L1345.7 537.4 L1348.7 542.1 L1351.7 546.9 L1354.7 551.6 L1357.7 556.4 L1360.7 561.2 L1363.7 566.0 L1366.7 570.8 L1369.7 575.6 L1372.7 580.4 L1375.7 585.2 L1378.7 590.0 L1381.7 594.8 L1384.7 599.6 L1387.7 604.5 L1390.7 609.3 L1393.8 614.2 L1396.8 619.0 L1399.8 623.9 L1402.8 628.7 L1405.8 633.6 L1408.8 638.5 L1411.8 643.3 L1414.8 648.2 L1417.8 653.1 L1420.8 658.0 L1423.8 662.9 L1426.8 667.7 L1429.8 672.6 L1432.8 677.5 L1435.8 682.4 L1438.8 687.4 L1441.8 692.3 L1444.8 697.2 L1447.8 702.2 L1450.8 707.1 L1453.8 712.1 L1456.8 717.1 L1459.8 722.0 L1462.8 727.0 L1465.8 732.0 L1468.8 737.1 L1471.8 742.1 L1474.8 747.1 L1477.8 752.1 L1480.8 757.2 L1483.8 762.2 L1486.9 767.3 L1489.9 772.3 L1492.9 777.4 L1495.9 782.5 L1498.9 787.6 L1501.9 792.6 L1504.9 797.7 L1507.9 802.8 L1510.9 807.9 L1513.9 813.0 L1516.9 818.1 L1519.9 823.2 L1522.9 828.3 L1525.9 833.4 L1528.9 838.5 L1531.9 843.6 L1534.9 848.8 L1537.9 853.9 L1540.9 859.0 L1543.9 864.1 L1546.9 869.2 L1549.9 874.3 L1552.9 879.4 L1555.9 884.6 L1558.9 889.7 L1561.9 894.8 L1564.9 899.9 L1567.9 905.0 L1570.9 910.2 L1573.9 915.4 L1577.0 920.7 L1580.0 926.0 L1583.0 931.3 L1586.0 936.5 L1589.0 941.8 L1592.0 947.1 L1595.0 952.3 L1598.0 957.5 L1601.0 962.7 L1604.0 967.8 L1607.0 972.8 L1610.0 977.7 L1613.0 982.6 L1616.0 987.4 L1619.0 992.0 L1622.0 996.4" stroke="#ff50c8" stroke-width="5.4" stroke-linecap="butt"/>
<path d="M249.5 1074.5 L252.5 1074.5 L255.5 1074.7 L258.5 1074.9 L261.5 1075.9 L264.5 1077.7 L267.5 1080.5 L270.5 1084.5 L273.5 1087.5 L276.5 1087.8 L279.5 1086.8 L282.5 1085.0 L285.5 1082.9 L288.5 1080.9 L291.5 1079.0 L294.5 1076.9 L297.6 1074.8 L300.6 1073.3 L303.6 1072.8 L306.6 1072.5 L309.6 1072.3 L312.6 1072.1 L315.6 1072.0 L318.6 1071.9 L321.6 1071.7 L324.6 1071.6 L327.6 1071.5 L330.6 1071.4 L333.6 1071.3 L336.6 1071.1 L339.6 1070.9 L342.6 1070.3 L345.6 1069.2 L348.6 1067.8 L351.6 1066.1 L354.6 1064.4 L357.6 1062.5 L360.6 1060.7 L363.6 1058.5 L366.6 1056.0 L369.6 1053.3 L372.6 1050.5 L375.6 1047.7 L378.6 1045.1 L381.6 1042.6 L384.6 1040.1 L387.7 1037.6 L390.7 1035.1 L393.7 1032.7 L396.7 1030.2 L399.7 1027.7 L402.7 1025.2 L405.7 1022.6 L408.7 1020.0 L411.7 1017.4 L414.7 1014.7 L417.7 1012.0 L420.7 1009.3 L423.7 1006.5 L426.7 1003.8 L429.7 1001.0 L432.7 998.2 L435.7 995.3 L438.7 992.5 L441.7 989.7 L444.7 987.0 L447.7 984.2 L450.7 981.4 L453.7 978.6 L456.7 975.7 L459.7 972.9 L462.7 970.0 L465.7 967.1 L468.7 964.1 L471.7 961.0 L474.7 957.9 L477.7 954.7 L480.8 951.4 L483.8 948.0 L486.8 944.6 L489.8 941.1 L492.8 937.5 L495.8 933.9 L498.8 930.2 L501.8 926.5 L504.8 922.7 L507.8 918.9 L510.8 915.0 L513.8 911.1 L516.8 907.1 L519.8 903.1 L522.8 899.0 L525.8 894.9 L528.8 890.8 L531.8 886.6 L534.8 882.4 L537.8 878.1 L540.8 873.8 L543.8 869.5 L546.8 865.2 L549.8 860.8 L552.8 856.4 L555.8 851.9 L558.8 847.5 L561.8 843.0 L564.8 838.5 L567.8 833.9 L570.9 829.4 L573.9 824.8 L576.9 820.2 L579.9 815.6 L582.9 811.0 L585.9 806.4 L588.9 801.7 L591.9 797.1 L594.9 792.3 L597.9 787.4 L600.9 782.3 L603.9 777.2 L606.9 772.1 L609.9 766.9 L612.9 761.7 L615.9 756.5 L618.9 751.3 L621.9 746.2 L624.9 741.1 L627.9 736.1 L630.9 731.2 L633.9 726.3 L636.9 721.5 L639.9 716.7 L642.9 711.9 L645.9 707.1 L648.9 702.3 L651.9 697.6 L654.9 692.8 L657.9 688.1 L660.9 683.4 L664.0 678.7 L667.0 674.1 L670.0 669.4 L673.0 664.7 L676.0 660.1 L679.0 655.4 L682.0 650.8 L685.0 646.1 L688.0 641.5 L691.0 636.9 L694.0 632.2 L697.0 627.6 L700.0 622.9 L703.0 618.3 L706.0 613.6 L709.0 609.0 L712.0 604.3 L715.0 599.6 L718.0 594.9 L721.0 590.2 L724.0 585.5 L727.0 580.7 L730.0 576.0 L733.0 571.2 L736.0 566.4 L739.0 561.6 L742.0 556.7 L745.0 551.9 L748.0 547.0 L751.0 542.1 L754.1 537.3 L757.1 532.4 L760.1 527.5 L763.1 522.6 L766.1 517.7 L769.1 512.8 L772.1 507.9 L775.1 503.0 L778.1 498.0 L781.1 493.1 L784.1 488.2 L787.1 483.2 L790.1 478.3 L793.1 473.3 L796.1 468.3 L799.1 463.4 L802.1 458.4 L805.1 453.4 L808.1 448.4 L811.1 443.4 L814.1 438.4 L817.1 433.4 L820.1 428.4 L823.1 423.4 L826.1 418.4 L829.1 413.3 L832.1 408.3 L835.1 403.3 L838.1 398.2 L841.1 393.2 L844.1 388.1 L847.2 383.0 L850.2 378.0 L853.2 372.9 L856.2 367.8 L859.2 362.8 L862.2 357.7 L865.2 352.6 L868.2 347.5 L871.2 342.4 L874.2 337.3 L877.2 332.0 L880.2 326.7 L883.2 321.2 L886.2 315.8 L889.2 310.2 L892.2 304.7 L895.2 299.2 L898.2 293.8 L901.2 288.5 L904.2 283.2 L907.2 278.2 L910.2 273.3 L913.2 268.6 L916.2 264.1 L919.2 259.9 L922.2 255.8 L925.2 251.8 L928.2 247.9 L931.2 244.1 L934.2 240.3 L937.3 236.7 L940.3 233.2 L943.3 229.8 L946.3 226.5 L949.3 223.4 L952.3 220.3 L955.3 217.4 L958.3 214.6 L961.3 211.9 L964.3 209.3 L967.3 206.9 L970.3 204.5 L973.3 202.3 L976.3 200.1 L979.3 197.9 L982.3 195.8 L985.3 193.8 L988.3 191.7 L991.3 189.7 L994.3 187.7 L997.3 185.9 L1000.3 184.2 L1003.3 182.9 L1006.3 181.6 L1009.3 180.4 L1012.3 179.4 L1015.3 178.5 L1018.3 177.9 L1021.3 177.6 L1024.3 177.4 L1027.4 177.2 L1030.4 177.1 L1033.4 177.0 L1036.4 177.1 L1039.4 177.6 L1042.4 178.4 L1045.4 179.3 L1048.4 180.1 L1051.4 181.0 L1054.4 182.0 L1057.4 183.0 L1060.4 184.2 L1063.4 185.4 L1066.4 186.7 L1069.4 188.0 L1072.4 189.3 L1075.4 190.6 L1078.4 192.0 L1081.4 193.4 L1084.4 194.8 L1087.4 196.3 L1090.4 197.9 L1093.4 199.6 L1096.4 201.3 L1099.4 203.1 L1102.4 205.1 L1105.4 207.2 L1108.4 209.5 L1111.4 212.0 L1114.4 214.5 L1117.4 217.2 L1120.5 219.9 L1123.5 222.8 L1126.5 225.9 L1129.5 229.1 L1132.5 232.4 L1135.5 235.8 L1138.5 239.3 L1141.5 242.7 L1144.5 246.2 L1147.5 249.7 L1150.5 253.3 L1153.5 256.9 L1156.5 260.6 L1159.5 264.4 L1162.5 268.2 L1165.5 272.0 L1168.5 275.9 L1171.5 279.8 L1174.5 283.8 L1177.5 287.9 L1180.5 292.0 L1183.5 296.1 L1186.5 300.3 L1189.5 304.5 L1192.5 308.8 L1195.5 313.1 L1198.5 317.4 L1201.5 321.7 L1204.5 326.1 L1207.5 330.5 L1210.6 335.0 L1213.6 339.4 L1216.6 343.9 L1219.6 348.4 L1222.6 352.9 L1225.6 357.4 L1228.6 362.0 L1231.6 366.5 L1234.6 371.1 L1237.6 375.7 L1240.6 380.3 L1243.6 384.8 L1246.6 389.4 L1249.6 394.1 L1252.6 398.7 L1255.6 403.3 L1258.6 407.9 L1261.6 412.5 L1264.6 417.1 L1267.6 421.7 L1270.6 426.3 L1273.6 430.9 L1276.6 435.5 L1279.6 440.2 L1282.6 444.8 L1285.6 449.4 L1288.6 454.1 L1291.6 458.7 L1294.6 463.4 L1297.6 468.0 L1300.6 472.7 L1303.7 477.4 L1306.7 482.1 L1309.7 486.7 L1312.7 491.4 L1315.7 496.1 L1318.7 500.8 L1321.7 505.5 L1324.7 510.3 L1327.7 515.0 L1330.7 519.7 L1333.7 524.4 L1336.7 529.2 L1339.7 533.9 L1342.7 538.7 L1345.7 543.4 L1348.7 548.2 L1351.7 553.0 L1354.7 557.7 L1357.7 562.5 L1360.7 567.3 L1363.7 572.1 L1366.7 576.9 L1369.7 581.7 L1372.7 586.5 L1375.7 591.3 L1378.7 596.1 L1381.7 600.9 L1384.7 605.8 L1387.7 610.6 L1390.7 615.4 L1393.8 620.3 L1396.8 625.1 L1399.8 630.0 L1402.8 634.8 L1405.8 639.7 L1408.8 644.6 L1411.8 649.5 L1414.8 654.3 L1417.8 659.2 L1420.8 664.1 L1423.8 669.0 L1426.8 673.9 L1429.8 678.8 L1432.8 683.8 L1435.8 688.7 L1438.8 693.6 L1441.8 698.6 L1444.8 703.6 L1447.8 708.6 L1450.8 713.6 L1453.8 718.7 L1456.8 723.7 L1459.8 728.8 L1462.8 733.8 L1465.8 738.9 L1468.8 744.0 L1471.8 749.1 L1474.8 754.2 L1477.8 759.3 L1480.8 764.4 L1483.8 769.5 L1486.9 774.6 L1489.9 779.8 L1492.9 784.9 L1495.9 790.0 L1498.9 795.1 L1501.9 800.3 L1504.9 805.4 L1507.9 810.5 L1510.9 815.7 L1513.9 820.8 L1516.9 825.9 L1519.9 831.0 L1522.9 836.1 L1525.9 841.2 L1528.9 846.3 L1531.9 851.4 L1534.9 856.5 L1537.9 861.5 L1540.9 866.6 L1543.9 871.6 L1546.9 876.6 L1549.9 881.6 L1552.9 886.6 L1555.9 891.6 L1558.9 896.6 L1561.9 901.5 L1564.9 906.5 L1567.9 911.4 L1570.9 916.4 L1573.9 921.3 L1577.0 926.3 L1580.0 931.2 L1583.0 936.2 L1586.0 941.1 L1589.0 946.0 L1592.0 950.9 L1595.0 955.7 L1598.0 960.6 L1601.0 965.4 L1604.0 970.2 L1607.0 974.9 L1610.0 979.7 L1613.0 984.3 L1616.0 989.0 L1619.0 993.5 L1622.0 998.0" stroke="#e8102c" stroke-width="4.8" stroke-linecap="butt"/>
<path d="M249.5 1070.5 L252.5 1070.5 L255.5 1070.6 L258.5 1070.6 L261.5 1070.7 L264.5 1070.8 L267.5 1071.0 L270.5 1071.5 L273.5 1072.9 L276.5 1074.4 L279.5 1075.6 L282.5 1076.9 L285.5 1077.8 L288.5 1077.9 L291.5 1077.4 L294.5 1076.6 L297.6 1075.9 L300.6 1075.5 L303.6 1075.3 L306.6 1075.2 L309.6 1075.1 L312.6 1075.0 L315.6 1075.0 L318.6 1074.9 L321.6 1074.8 L324.6 1074.7 L327.6 1074.4 L330.6 1073.8 L333.6 1072.8 L336.6 1071.5 L339.6 1070.4 L342.6 1069.2 L345.6 1067.9 L348.6 1066.5 L351.6 1065.0 L354.6 1063.3 L357.6 1061.5 L360.6 1059.3 L363.6 1056.8 L366.6 1054.0 L369.6 1051.0 L372.6 1048.1 L375.6 1045.3 L378.6 1042.6 L381.6 1040.0 L384.6 1037.5 L387.7 1034.9 L390.7 1032.3 L393.7 1029.8 L396.7 1027.2 L399.7 1024.5 L402.7 1021.8 L405.7 1019.1 L408.7 1016.3 L411.7 1013.5 L414.7 1010.7 L417.7 1007.8 L420.7 1004.9 L423.7 1002.0 L426.7 999.0 L429.7 996.0 L432.7 993.0 L435.7 990.0 L438.7 986.9 L441.7 983.9 L444.7 980.8 L447.7 977.7 L450.7 974.6 L453.7 971.4 L456.7 968.2 L459.7 965.0 L462.7 961.7 L465.7 958.3 L468.7 954.9 L471.7 951.5 L474.7 947.9 L477.7 944.4 L480.8 940.8 L483.8 937.1 L486.8 933.5 L489.8 929.8 L492.8 926.0 L495.8 922.3 L498.8 918.4 L501.8 914.6 L504.8 910.7 L507.8 906.8 L510.8 902.9 L513.8 898.9 L516.8 894.9 L519.8 890.9 L522.8 886.8 L525.8 882.7 L528.8 878.6 L531.8 874.5 L534.8 870.3 L537.8 866.1 L540.8 861.8 L543.8 857.5 L546.8 853.2 L549.8 848.9 L552.8 844.5 L555.8 840.1 L558.8 835.7 L561.8 831.3 L564.8 826.8 L567.8 822.3 L570.9 817.7 L573.9 813.2 L576.9 808.6 L579.9 803.9 L582.9 799.3 L585.9 794.5 L588.9 789.6 L591.9 784.5 L594.9 779.4 L597.9 774.1 L600.9 768.8 L603.9 763.5 L606.9 758.2 L609.9 752.9 L612.9 747.6 L615.9 742.4 L618.9 737.3 L621.9 732.3 L624.9 727.4 L627.9 722.5 L630.9 717.6 L633.9 712.7 L636.9 707.8 L639.9 703.0 L642.9 698.2 L645.9 693.4 L648.9 688.6 L651.9 683.8 L654.9 679.1 L657.9 674.3 L660.9 669.6 L664.0 664.9 L667.0 660.2 L670.0 655.5 L673.0 650.8 L676.0 646.1 L679.0 641.4 L682.0 636.7 L685.0 632.0 L688.0 627.3 L691.0 622.6 L694.0 617.9 L697.0 613.2 L700.0 608.5 L703.0 603.8 L706.0 599.1 L709.0 594.3 L712.0 589.6 L715.0 584.8 L718.0 580.1 L721.0 575.3 L724.0 570.5 L727.0 565.6 L730.0 560.8 L733.0 555.9 L736.0 551.0 L739.0 546.2 L742.0 541.3 L745.0 536.4 L748.0 531.5 L751.0 526.6 L754.1 521.7 L757.1 516.8 L760.1 511.9 L763.1 507.0 L766.1 502.1 L769.1 497.2 L772.1 492.2 L775.1 487.3 L778.1 482.4 L781.1 477.4 L784.1 472.5 L787.1 467.5 L790.1 462.6 L793.1 457.6 L796.1 452.6 L799.1 447.7 L802.1 442.7 L805.1 437.7 L808.1 432.7 L811.1 427.7 L814.1 422.7 L817.1 417.7 L820.1 412.7 L823.1 407.7 L826.1 402.7 L829.1 397.7 L832.1 392.7 L835.1 387.6 L838.1 382.6 L841.1 377.5 L844.1 372.5 L847.2 367.4 L850.2 362.4 L853.2 357.3 L856.2 352.2 L859.2 347.2 L862.2 342.1 L865.2 337.0 L868.2 331.8 L871.2 326.4 L874.2 321.1 L877.2 315.6 L880.2 310.2 L883.2 304.7 L886.2 299.3 L889.2 293.9 L892.2 288.6 L895.2 283.4 L898.2 278.3 L901.2 273.4 L904.2 268.6 L907.2 264.1 L910.2 259.7 L913.2 255.4 L916.2 251.2 L919.2 247.0 L922.2 242.9 L925.2 238.9 L928.2 235.0 L931.2 231.3 L934.2 227.7 L937.3 224.2 L940.3 220.9 L943.3 217.8 L946.3 214.9 L949.3 212.2 L952.3 209.6 L955.3 207.2 L958.3 204.8 L961.3 202.6 L964.3 200.4 L967.3 198.3 L970.3 196.2 L973.3 194.2 L976.3 192.2 L979.3 190.2 L982.3 188.2 L985.3 186.1 L988.3 184.0 L991.3 181.9 L994.3 179.8 L997.3 177.9 L1000.3 176.4 L1003.3 175.0 L1006.3 173.8 L1009.3 172.7 L1012.3 171.9 L1015.3 171.2 L1018.3 170.6 L1021.3 170.2 L1024.3 170.0 L1027.4 170.2 L1030.4 170.5 L1033.4 170.9 L1036.4 171.5 L1039.4 172.4 L1042.4 173.4 L1045.4 174.6 L1048.4 175.6 L1051.4 176.8 L1054.4 177.9 L1057.4 179.2 L1060.4 180.4 L1063.4 181.8 L1066.4 183.1 L1069.4 184.5 L1072.4 186.0 L1075.4 187.4 L1078.4 189.0 L1081.4 190.5 L1084.4 192.2 L1087.4 193.9 L1090.4 195.6 L1093.4 197.5 L1096.4 199.4 L1099.4 201.4 L1102.4 203.5 L1105.4 205.7 L1108.4 208.1 L1111.4 210.6 L1114.4 213.2 L1117.4 215.9 L1120.5 218.7 L1123.5 221.7 L1126.5 224.9 L1129.5 228.2 L1132.5 231.6 L1135.5 235.1 L1138.5 238.5 L1141.5 242.1 L1144.5 245.8 L1147.5 249.6 L1150.5 253.5 L1153.5 257.3 L1156.5 261.2 L1159.5 265.0 L1162.5 268.9 L1165.5 272.9 L1168.5 276.9 L1171.5 281.0 L1174.5 285.3 L1177.5 289.6 L1180.5 294.0 L1183.5 298.4 L1186.5 302.9 L1189.5 307.3 L1192.5 311.8 L1195.5 316.3 L1198.5 320.8 L1201.5 325.3 L1204.5 329.8 L1207.5 334.3 L1210.6 338.9 L1213.6 343.5 L1216.6 348.0 L1219.6 352.6 L1222.6 357.2 L1225.6 361.8 L1228.6 366.4 L1231.6 371.1 L1234.6 375.7 L1237.6 380.3 L1240.6 385.0 L1243.6 389.6 L1246.6 394.2 L1249.6 398.9 L1252.6 403.6 L1255.6 408.2 L1258.6 412.9 L1261.6 417.5 L1264.6 422.2 L1267.6 426.8 L1270.6 431.5 L1273.6 436.2 L1276.6 440.8 L1279.6 445.5 L1282.6 450.2 L1285.6 454.8 L1288.6 459.5 L1291.6 464.2 L1294.6 468.9 L1297.6 473.6 L1300.6 478.2 L1303.7 482.9 L1306.7 487.6 L1309.7 492.3 L1312.7 497.0 L1315.7 501.7 L1318.7 506.4 L1321.7 511.1 L1324.7 515.9 L1327.7 520.6 L1330.7 525.3 L1333.7 530.0 L1336.7 534.8 L1339.7 539.5 L1342.7 544.2 L1345.7 549.0 L1348.7 553.7 L1351.7 558.5 L1354.7 563.3 L1357.7 568.0 L1360.7 572.8 L1363.7 577.6 L1366.7 582.4 L1369.7 587.2 L1372.7 592.0 L1375.7 596.8 L1378.7 601.6 L1381.7 606.4 L1384.7 611.3 L1387.7 616.1 L1390.7 620.9 L1393.8 625.8 L1396.8 630.6 L1399.8 635.5 L1402.8 640.4 L1405.8 645.3 L1408.8 650.1 L1411.8 655.0 L1414.8 659.9 L1417.8 664.9 L1420.8 669.8 L1423.8 674.7 L1426.8 679.6 L1429.8 684.6 L1432.8 689.6 L1435.8 694.6 L1438.8 699.6 L1441.8 704.7 L1444.8 709.8 L1447.8 714.9 L1450.8 720.0 L1453.8 725.1 L1456.8 730.2 L1459.8 735.4 L1462.8 740.6 L1465.8 745.8 L1468.8 751.0 L1471.8 756.2 L1474.8 761.4 L1477.8 766.6 L1480.8 771.8 L1483.8 777.0 L1486.9 782.3 L1489.9 787.5 L1492.9 792.7 L1495.9 797.9 L1498.9 803.2 L1501.9 808.4 L1504.9 813.6 L1507.9 818.8 L1510.9 824.0 L1513.9 829.2 L1516.9 834.3 L1519.9 839.5 L1522.9 844.6 L1525.9 849.8 L1528.9 854.9 L1531.9 860.0 L1534.9 865.0 L1537.9 870.1 L1540.9 875.1 L1543.9 880.1 L1546.9 885.1 L1549.9 890.1 L1552.9 895.0 L1555.9 899.9 L1558.9 904.8 L1561.9 909.6 L1564.9 914.4 L1567.9 919.2 L1570.9 924.0 L1573.9 928.8 L1577.0 933.5 L1580.0 938.3 L1583.0 943.0 L1586.0 947.7 L1589.0 952.4 L1592.0 957.1 L1595.0 961.7 L1598.0 966.4 L1601.0 971.0 L1604.0 975.6 L1607.0 980.2 L1610.0 984.8 L1613.0 989.4 L1616.0 994.0 L1619.0 998.5 L1622.0 1003.0" stroke="#14e61c" stroke-width="5.6" stroke-linecap="butt"/>
<path d="M249.5 1066.0 L252.5 1066.5 L255.5 1067.0 L258.5 1067.4 L261.5 1067.9 L264.5 1068.3 L267.5 1068.6 L270.5 1068.9 L273.5 1069.2 L276.5 1069.5 L279.5 1069.7 L282.5 1069.8 L285.5 1069.9 L288.5 1070.0 L291.5 1070.0 L294.5 1070.0 L297.5 1070.0 L300.5 1069.9 L303.5 1069.8 L306.5 1069.8 L309.5 1069.7 L312.5 1069.5 L315.5 1069.4 L318.5 1069.2 L321.5 1069.0 L324.5 1068.5 L327.5 1067.1 L330.5 1065.3 L333.5 1063.3 L336.5 1061.3 L339.5 1059.0 L342.5 1056.5 L345.5 1053.7 L348.5 1050.8 L351.5 1047.8 L354.5 1044.7 L357.5 1041.6 L360.5 1038.6 L363.5 1035.6 L366.5 1032.8 L369.5 1029.9 L372.5 1027.1 L375.5 1024.3 L378.5 1021.4 L381.5 1018.5 L384.5 1015.6 L387.6 1012.6 L390.6 1009.6 L393.6 1006.5 L396.6 1003.4 L399.6 1000.3 L402.6 997.1 L405.6 993.9 L408.6 990.7 L411.6 987.5 L414.6 984.2 L417.6 980.8 L420.6 977.5 L423.6 974.2 L426.6 970.9 L429.6 967.8 L432.6 964.7 L435.6 961.9 L438.6 959.1 L441.6 956.4 L444.6 953.5 L447.6 950.4 L450.6 947.0 L453.6 943.6 L456.6 940.1 L459.6 936.5 L462.6 932.8 L465.6 929.1 L468.6 925.3 L471.6 921.4 L474.6 917.4 L477.6 913.4 L480.6 909.3 L483.6 905.1 L486.6 901.0 L489.6 896.7 L492.6 892.4 L495.6 888.1 L498.6 883.7 L501.6 879.4 L504.6 874.9 L507.6 870.5 L510.6 866.0 L513.6 861.5 L516.6 857.0 L519.6 852.5 L522.6 848.0 L525.6 843.5 L528.6 839.0 L531.6 834.5 L534.6 830.0 L537.6 825.5 L540.6 821.1 L543.6 816.6 L546.6 812.2 L549.6 807.8 L552.6 803.4 L555.6 799.1 L558.6 794.8 L561.6 790.5 L564.6 786.2 L567.6 781.9 L570.6 777.5 L573.6 773.2 L576.6 768.8 L579.6 764.5 L582.6 760.1 L585.6 755.7 L588.6 751.2 L591.6 746.7 L594.6 742.2 L597.6 737.7 L600.6 733.1 L603.6 728.5 L606.6 723.9 L609.6 719.2 L612.6 714.6 L615.6 709.9 L618.6 705.2 L621.6 700.4 L624.6 695.7 L627.6 690.9 L630.6 686.1 L633.6 681.3 L636.6 676.5 L639.6 671.6 L642.6 666.8 L645.6 661.9 L648.6 657.0 L651.6 652.1 L654.6 647.2 L657.7 642.3 L660.7 637.4 L663.7 632.5 L666.7 627.6 L669.7 622.6 L672.7 617.7 L675.7 612.8 L678.7 607.8 L681.7 602.9 L684.7 598.0 L687.7 593.0 L690.7 588.1 L693.7 583.2 L696.7 578.2 L699.7 573.3 L702.7 568.4 L705.7 563.5 L708.7 558.6 L711.7 553.7 L714.7 548.8 L717.7 543.9 L720.7 539.0 L723.7 534.2 L726.7 529.3 L729.7 524.4 L732.7 519.6 L735.7 514.7 L738.7 509.8 L741.7 505.0 L744.7 500.1 L747.7 495.2 L750.7 490.4 L753.7 485.5 L756.7 480.6 L759.7 475.7 L762.7 470.9 L765.7 466.0 L768.7 461.1 L771.7 456.2 L774.7 451.3 L777.7 446.4 L780.7 441.5 L783.7 436.5 L786.7 431.6 L789.7 426.6 L792.7 421.7 L795.7 416.7 L798.7 411.7 L801.7 406.8 L804.7 401.8 L807.7 396.7 L810.7 391.7 L813.7 386.7 L816.7 381.6 L819.7 376.5 L822.7 371.4 L825.7 366.3 L828.7 361.2 L831.7 356.0 L834.7 350.9 L837.7 345.7 L840.7 340.5 L843.7 335.2 L846.7 329.7 L849.7 324.2 L852.7 318.7 L855.7 313.3 L858.7 308.0 L861.7 303.1 L864.7 298.3 L867.7 293.8 L870.7 289.2 L873.7 284.7 L876.7 280.1 L879.7 275.2 L882.7 270.3 L885.7 265.3 L888.7 260.3 L891.7 255.5 L894.7 250.9 L897.7 246.5 L900.7 242.3 L903.7 238.1 L906.7 234.1 L909.7 230.3 L912.7 226.6 L915.7 223.2 L918.7 220.0 L921.7 216.8 L924.7 213.8 L927.8 211.0 L930.8 208.2 L933.8 205.5 L936.8 203.0 L939.8 200.5 L942.8 198.1 L945.8 195.8 L948.8 193.6 L951.8 191.5 L954.8 189.4 L957.8 187.5 L960.8 185.6 L963.8 183.9 L966.8 182.2 L969.8 180.5 L972.8 178.9 L975.8 177.4 L978.8 176.0 L981.8 174.5 L984.8 173.1 L987.8 171.7 L990.8 170.4 L993.8 169.3 L996.8 168.3 L999.8 167.6 L1002.8 166.9 L1005.8 166.3 L1008.8 165.8 L1011.8 165.4 L1014.8 165.3 L1017.8 165.4 L1020.8 165.7 L1023.8 166.2 L1026.8 166.8 L1029.8 167.5 L1032.8 168.2 L1035.8 169.3 L1038.8 170.9 L1041.8 172.7 L1044.8 174.8 L1047.8 176.9 L1050.8 179.1 L1053.8 181.3 L1056.8 183.6 L1059.8 186.1 L1062.8 188.7 L1065.8 191.3 L1068.8 194.1 L1071.8 196.9 L1074.8 199.8 L1077.8 202.8 L1080.8 205.9 L1083.8 209.2 L1086.8 212.5 L1089.8 215.8 L1092.8 219.1 L1095.8 222.2 L1098.8 225.3 L1101.8 228.2 L1104.8 231.1 L1107.8 234.0 L1110.8 237.0 L1113.8 240.1 L1116.8 243.4 L1119.8 246.8 L1122.8 250.4 L1125.8 254.0 L1128.8 257.8 L1131.8 261.6 L1134.8 265.5 L1137.8 269.4 L1140.8 273.3 L1143.8 277.3 L1146.8 281.3 L1149.8 285.3 L1152.8 289.4 L1155.8 293.5 L1158.8 297.7 L1161.8 301.9 L1164.8 306.1 L1167.8 310.3 L1170.8 314.5 L1173.8 318.8 L1176.8 323.1 L1179.8 327.4 L1182.8 331.8 L1185.8 336.1 L1188.8 340.5 L1191.8 344.9 L1194.8 349.3 L1197.8 353.8 L1200.9 358.2 L1203.9 362.7 L1206.9 367.2 L1209.9 371.6 L1212.9 376.1 L1215.9 380.6 L1218.9 385.1 L1221.9 389.6 L1224.9 394.2 L1227.9 398.7 L1230.9 403.2 L1233.9 407.7 L1236.9 412.3 L1239.9 416.8 L1242.9 421.3 L1245.9 425.8 L1248.9 430.4 L1251.9 434.9 L1254.9 439.5 L1257.9 444.1 L1260.9 448.6 L1263.9 453.2 L1266.9 457.8 L1269.9 462.5 L1272.9 467.1 L1275.9 471.7 L1278.9 476.4 L1281.9 481.0 L1284.9 485.7 L1287.9 490.4 L1290.9 495.0 L1293.9 499.7 L1296.9 504.4 L1299.9 509.1 L1302.9 513.8 L1305.9 518.6 L1308.9 523.3 L1311.9 528.0 L1314.9 532.8 L1317.9 537.6 L1320.9 542.3 L1323.9 547.1 L1326.9 551.9 L1329.9 556.7 L1332.9 561.4 L1335.9 566.2 L1338.9 571.1 L1341.9 575.9 L1344.9 580.7 L1347.9 585.5 L1350.9 590.3 L1353.9 595.2 L1356.9 600.0 L1359.9 604.9 L1362.9 609.7 L1365.9 614.6 L1368.9 619.5 L1371.9 624.3 L1374.9 629.2 L1377.9 634.1 L1380.9 639.0 L1383.9 643.9 L1386.9 648.8 L1389.9 653.7 L1392.9 658.6 L1395.9 663.5 L1398.9 668.4 L1401.9 673.3 L1404.9 678.2 L1407.9 683.2 L1410.9 688.1 L1413.9 693.1 L1416.9 698.0 L1419.9 703.0 L1422.9 708.0 L1425.9 713.0 L1428.9 718.0 L1431.9 723.0 L1434.9 728.0 L1437.9 733.1 L1440.9 738.1 L1443.9 743.2 L1446.9 748.2 L1449.9 753.3 L1452.9 758.4 L1455.9 763.5 L1458.9 768.6 L1461.9 773.7 L1464.9 778.8 L1467.9 783.9 L1471.0 789.0 L1474.0 794.1 L1477.0 799.2 L1480.0 804.4 L1483.0 809.5 L1486.0 814.6 L1489.0 819.8 L1492.0 824.9 L1495.0 830.1 L1498.0 835.2 L1501.0 840.3 L1504.0 845.5 L1507.0 850.6 L1510.0 855.8 L1513.0 860.9 L1516.0 866.1 L1519.0 871.2 L1522.0 876.3 L1525.0 881.5 L1528.0 886.6 L1531.0 891.8 L1534.0 896.9 L1537.0 902.0 L1540.0 907.1 L1543.0 912.3 L1546.0 917.4 L1549.0 922.5 L1552.0 927.7 L1555.0 932.8 L1558.0 938.0 L1561.0 943.1 L1564.0 948.3 L1567.0 953.5 L1570.0 958.6 L1573.0 963.8 L1576.0 969.0 L1579.0 974.1 L1582.0 979.3 L1585.0 984.5 L1588.0 989.8 L1591.0 995.1 L1594.0 1000.3 L1597.0 1005.4 L1600.0 1010.2 L1603.0 1014.9 L1606.0 1019.5 L1609.2 1014.9 L1612.4 1010.6 L1615.6 1006.5 L1618.8 1002.6 L1622.0 999.0" stroke="#4444ff" stroke-width="5.4" stroke-linecap="butt" stroke-dasharray="14 18"/>
<path d="M249.5 1068.0 L262.0 1068.5 L265.3 1075.5 L268.6 1080.6 L271.9 1085.1 L275.2 1088.6 L278.5 1090.5 L281.7 1088.3 L284.8 1086.1 L288.0 1084.0 L291.2 1081.9 L294.3 1079.8 L297.5 1077.6 L300.7 1075.3 L303.8 1073.6 L307.0 1072.4 L310.2 1071.6 L313.3 1071.3 L316.5 1071.1 L319.7 1070.9 L322.8 1070.8 L326.0 1070.8 L329.0 1068.5 L332.0 1066.0 L335.0 1063.2 L338.0 1060.4 L341.0 1057.4 L344.0 1054.2 L347.0 1051.0 L350.0 1047.7 L353.1 1044.4 L356.1 1041.0 L359.1 1037.5 L362.1 1034.1 L365.1 1030.6 L368.1 1027.2 L371.1 1023.6 L374.1 1020.0 L377.1 1016.4 L380.1 1012.7 L383.1 1008.9 L386.1 1005.2 L389.1 1001.5 L392.1 997.8 L395.1 994.1 L398.1 990.6 L401.1 987.0 L404.1 983.5 L407.2 980.0 L410.2 976.5 L413.2 973.0 L416.2 969.4 L419.2 965.9 L422.2 962.3 L425.2 958.6 L428.2 954.9 L431.2 951.0 L434.2 947.1 L437.2 943.2 L440.2 939.2 L443.2 935.1 L446.2 931.0 L449.2 926.8 L452.2 922.6 L455.2 918.3 L458.2 914.0 L461.3 909.7 L464.3 905.3 L467.3 901.0 L470.3 896.5 L473.3 892.1 L476.3 887.7 L479.3 883.2 L482.3 878.7 L485.3 874.2 L488.3 869.7 L491.3 865.2 L494.3 860.8 L497.3 856.3 L500.3 851.8 L503.3 847.3 L506.3 842.9 L509.3 838.4 L512.4 834.0 L515.4 829.6 L518.4 825.2 L521.4 820.9 L524.4 816.6 L527.4 812.4 L530.4 808.2 L533.4 803.9 L536.4 799.7 L539.4 795.5 L542.4 791.2 L545.4 786.8 L548.4 782.4 L551.4 777.8 L554.4 773.1 L557.4 768.4 L560.4 763.5 L563.4 758.6 L566.5 753.6 L569.5 748.7 L572.5 743.7 L575.5 738.8 L578.5 733.9 L581.5 729.1 L584.5 724.2 L587.5 719.4 L590.5 714.6 L593.5 709.8 L596.5 705.0 L599.5 700.2 L602.5 695.4 L605.5 690.6 L608.5 685.8 L611.5 681.0 L614.5 676.2 L617.5 671.4 L620.6 666.6 L623.6 661.9 L626.6 657.1 L629.6 652.3 L632.6 647.5 L635.6 642.7 L638.6 637.9 L641.6 633.1 L644.6 628.3 L647.6 623.5 L650.6 618.7 L653.6 613.9 L656.6 609.1 L659.6 604.3 L662.6 599.5 L665.6 594.6 L668.6 589.8 L671.6 584.9 L674.7 580.1 L677.7 575.2 L680.7 570.3 L683.7 565.4 L686.7 560.5 L689.7 555.6 L692.7 550.7 L695.7 545.8 L698.7 540.9 L701.7 536.0 L704.7 531.1 L707.7 526.1 L710.7 521.2 L713.7 516.3 L716.7 511.4 L719.7 506.5 L722.7 501.5 L725.8 496.6 L728.8 491.7 L731.8 486.7 L734.8 481.8 L737.8 476.8 L740.8 471.9 L743.8 466.9 L746.8 461.9 L749.8 456.9 L752.8 452.0 L755.8 447.0 L758.8 442.0 L761.8 437.0 L764.8 432.0 L767.8 426.9 L770.8 421.9 L773.8 416.9 L776.8 411.8 L779.9 406.8 L782.9 401.7 L785.9 396.7 L788.9 391.6 L791.9 386.5 L794.9 381.4 L797.9 376.3 L800.9 371.1 L803.9 366.0 L806.9 360.8 L809.9 355.7 L812.9 350.5 L815.9 345.3 L818.9 340.1 L821.9 334.9 L824.9 329.5 L827.9 324.1 L830.9 318.6 L834.0 313.1 L837.0 307.6 L840.0 302.1 L843.0 296.6 L846.0 291.1 L849.0 285.7 L852.0 280.3 L855.0 275.1 L858.0 269.9 L861.0 264.9 L864.0 260.0 L867.0 255.2 L870.0 250.4 L873.0 245.8 L876.0 241.2 L879.0 236.7 L882.0 232.3 L885.1 227.9 L888.1 223.6 L891.1 219.3 L894.1 215.1 L897.1 210.8 L900.1 206.5 L903.1 202.3 L906.1 198.3 L909.1 194.5 L912.1 191.0 L915.1 187.7 L918.1 184.6 L921.1 181.6 L924.1 178.8 L927.1 176.1 L930.1 173.6 L933.1 171.3 L936.1 169.2 L939.2 167.2 L942.2 165.3 L945.2 163.5 L948.2 161.8 L951.2 160.3 L954.2 159.0 L957.2 157.9 L960.2 157.0 L963.2 156.2 L966.2 155.5 L969.2 154.8 L972.2 154.2 L975.2 153.6 L978.2 153.1 L981.2 152.6 L984.2 152.1 L987.2 151.8 L990.2 151.5 L993.3 151.3 L996.3 151.1 L999.3 151.0 L1002.3 151.2 L1005.3 152.0 L1008.3 153.1 L1011.3 155.0 L1014.3 157.6 L1017.3 160.0 L1020.3 162.2 L1023.3 164.4 L1026.3 166.6 L1029.3 168.9 L1032.3 171.3 L1035.3 173.7 L1038.3 176.2 L1041.3 178.7 L1044.3 181.3 L1047.4 183.9 L1050.4 186.6 L1053.4 189.3 L1056.4 192.2 L1059.4 195.1 L1062.4 198.1 L1065.4 201.1 L1068.4 204.3 L1071.4 207.5 L1074.4 211.0 L1077.4 214.7 L1080.4 218.3 L1083.4 221.9 L1086.4 225.4 L1089.4 228.5 L1092.4 231.5 L1095.4 234.4 L1098.5 237.4 L1101.5 240.8 L1104.5 244.3 L1107.5 247.9 L1110.5 251.6 L1113.5 255.4 L1116.5 259.2 L1119.5 263.2 L1122.5 267.2 L1125.5 271.3 L1128.5 275.4 L1131.5 279.6 L1134.5 283.9 L1137.5 288.2 L1140.5 292.6 L1143.5 297.1 L1146.5 301.6 L1149.5 306.1 L1152.6 310.7 L1155.6 315.3 L1158.6 319.9 L1161.6 324.6 L1164.6 329.3 L1167.6 334.1 L1170.6 338.8 L1173.6 343.6 L1176.6 348.4 L1179.6 353.2 L1182.6 358.1 L1185.6 362.9 L1188.6 367.8 L1191.6 372.6 L1194.6 377.4 L1197.6 382.3 L1200.6 387.1 L1203.6 391.9 L1206.7 396.7 L1209.7 401.5 L1212.7 406.3 L1215.7 411.0 L1218.7 415.8 L1221.7 420.4 L1224.7 425.1 L1227.7 429.8 L1230.7 434.5 L1233.7 439.3 L1236.7 444.0 L1239.7 448.7 L1242.7 453.5 L1245.7 458.3 L1248.7 463.1 L1251.7 467.8 L1254.7 472.6 L1257.8 477.5 L1260.8 482.3 L1263.8 487.1 L1266.8 492.0 L1269.8 496.8 L1272.8 501.7 L1275.8 506.6 L1278.8 511.4 L1281.8 516.3 L1284.8 521.2 L1287.8 526.1 L1290.8 531.0 L1293.8 536.0 L1296.8 540.9 L1299.8 545.8 L1302.8 550.8 L1305.8 555.7 L1308.8 560.6 L1311.9 565.6 L1314.9 570.6 L1317.9 575.5 L1320.9 580.5 L1323.9 585.5 L1326.9 590.4 L1329.9 595.4 L1332.9 600.4 L1335.9 605.4 L1338.9 610.4 L1341.9 615.4 L1344.9 620.4 L1347.9 625.3 L1350.9 630.3 L1353.9 635.3 L1356.9 640.3 L1359.9 645.3 L1362.9 650.3 L1366.0 655.3 L1369.0 660.3 L1372.0 665.3 L1375.0 670.3 L1378.0 675.3 L1381.0 680.3 L1384.0 685.3 L1387.0 690.3 L1390.0 695.3 L1393.0 700.3 L1396.0 705.4 L1399.0 710.4 L1402.0 715.4 L1405.0 720.5 L1408.0 725.5 L1411.0 730.6 L1414.0 735.6 L1417.0 740.7 L1420.1 745.8 L1423.1 750.8 L1426.1 755.9 L1429.1 761.0 L1432.1 766.1 L1435.1 771.1 L1438.1 776.2 L1441.1 781.3 L1444.1 786.4 L1447.1 791.5 L1450.1 796.6 L1453.1 801.7 L1456.1 806.8 L1459.1 811.9 L1462.1 817.0 L1465.1 822.1 L1468.1 827.3 L1471.2 832.4 L1474.2 837.5 L1477.2 842.6 L1480.2 847.7 L1483.2 852.8 L1486.2 857.9 L1489.2 863.0 L1492.2 868.1 L1495.2 873.2 L1498.2 878.3 L1501.2 883.4 L1504.2 888.5 L1507.2 893.6 L1510.2 898.7 L1513.2 903.8 L1516.2 908.9 L1519.2 914.0 L1522.2 919.0 L1525.3 924.1 L1528.3 929.2 L1531.3 934.3 L1534.3 939.4 L1537.3 944.5 L1540.3 949.6 L1543.3 954.7 L1546.3 959.8 L1549.3 964.9 L1552.3 970.0 L1555.3 975.1 L1558.3 980.2 L1561.3 985.3 L1564.3 990.4 L1567.3 995.5 L1570.3 1000.6 L1573.3 1005.7 L1576.3 1010.8 L1579.4 1015.9 L1582.4 1021.0 L1585.4 1026.1 L1588.4 1031.2 L1591.4 1036.3 L1594.4 1041.4 L1597.4 1046.5 L1600.4 1051.6 L1603.4 1056.7 L1606.5 1054.0 L1609.6 1051.4 L1612.7 1048.8 L1615.8 1046.2 L1618.9 1043.6 L1622.0 1041.0" stroke="#7c7c7c" stroke-width="5.0" stroke-linecap="butt"/>
<path d="M249.5 1068.0 L262.0 1068.5 L265.3 1075.5 L268.6 1080.6 L271.9 1085.1 L275.2 1088.6 L278.5 1090.5 L281.7 1088.3 L284.8 1086.1 L288.0 1084.0 L291.2 1081.9 L294.3 1079.8 L297.5 1077.6 L300.7 1075.3 L303.8 1073.6 L307.0 1072.4 L310.2 1071.6 L313.3 1071.3 L316.5 1071.1 L319.7 1070.9 L322.8 1070.8 L326.0 1070.8 L329.0 1068.5 L332.0 1066.0 L335.0 1063.2 L338.0 1060.4 L341.0 1057.4 L344.0 1054.2 L347.0 1051.0 L350.0 1047.7 L353.1 1044.4 L356.1 1041.0 L359.1 1037.5 L362.1 1034.1 L365.1 1030.6 L368.1 1027.2 L371.1 1023.6 L374.1 1020.0 L377.1 1016.4 L380.1 1012.7 L383.1 1008.9 L386.1 1005.2 L389.1 1001.5 L392.1 997.8 L395.1 994.1 L398.1 990.6 L401.1 987.0 L404.1 983.5 L407.2 980.0 L410.2 976.5 L413.2 973.0 L416.2 969.4 L419.2 965.9 L422.2 962.3 L425.2 958.6 L428.2 954.9 L431.2 951.0 L434.2 947.1 L437.2 943.2 L440.2 939.2 L443.2 935.1 L446.2 931.0 L449.2 926.8 L452.2 922.6 L455.2 918.3 L458.2 914.0 L461.3 909.7 L464.3 905.3 L467.3 901.0 L470.3 896.5 L473.3 892.1 L476.3 887.7 L479.3 883.2 L482.3 878.7 L485.3 874.2 L488.3 869.7 L491.3 865.2 L494.3 860.8 L497.3 856.3 L500.3 851.8 L503.3 847.3 L506.3 842.9 L509.3 838.4 L512.4 834.0 L515.4 829.6 L518.4 825.2 L521.4 820.9 L524.4 816.6 L527.4 812.4 L530.4 808.2 L533.4 803.9 L536.4 799.7 L539.4 795.5 L542.4 791.2 L545.4 786.8 L548.4 782.4 L551.4 777.8 L554.4 773.1 L557.4 768.4 L560.4 763.5 L563.4 758.6 L566.5 753.6 L569.5 748.7 L572.5 743.7 L575.5 738.8 L578.5 733.9 L581.5 729.1 L584.5 724.2 L587.5 719.4 L590.5 714.6 L593.5 709.8 L596.5 705.0 L599.5 700.2 L602.5 695.4 L605.5 690.6 L608.5 685.8 L611.5 681.0 L614.5 676.2 L617.5 671.4 L620.6 666.6 L623.6 661.9 L626.6 657.1 L629.6 652.3 L632.6 647.5 L635.6 642.7 L638.6 637.9 L641.6 633.1 L644.6 628.3 L647.6 623.5 L650.6 618.7 L653.6 613.9 L656.6 609.1 L659.6 604.3 L662.6 599.5 L665.6 594.6 L668.6 589.8 L671.6 584.9 L674.7 580.1 L677.7 575.2 L680.7 570.3 L683.7 565.4 L686.7 560.5 L689.7 555.6 L692.7 550.7 L695.7 545.8 L698.7 540.9 L701.7 536.0 L704.7 531.1 L707.7 526.1 L710.7 521.2 L713.7 516.3 L716.7 511.4 L719.7 506.5 L722.7 501.5 L725.8 496.6 L728.8 491.7 L731.8 486.7 L734.8 481.8 L737.8 476.8 L740.8 471.9 L743.8 466.9 L746.8 461.9 L749.8 456.9 L752.8 452.0 L755.8 447.0 L758.8 442.0 L761.8 437.0 L764.8 432.0 L767.8 426.9 L770.8 421.9 L773.8 416.9 L776.8 411.8 L779.9 406.8 L782.9 401.7 L785.9 396.7 L788.9 391.6 L791.9 386.5 L794.9 381.4 L797.9 376.3 L800.9 371.1 L803.9 366.0 L806.9 360.8 L809.9 355.7 L812.9 350.5 L815.9 345.3 L818.9 340.1 L821.9 334.9 L824.9 329.5 L827.9 324.1 L830.9 318.6 L834.0 313.1 L837.0 307.6 L840.0 302.1 L843.0 296.6 L846.0 291.1 L849.0 285.7 L852.0 280.3 L855.0 275.1 L858.0 269.9 L861.0 264.9 L864.0 260.0 L867.0 255.2 L870.0 250.4 L873.0 245.8 L876.0 241.2 L879.0 236.7 L882.0 232.3 L885.1 227.9 L888.1 223.6 L891.1 219.3 L894.1 215.1 L897.1 210.8 L900.1 206.5 L903.1 202.3 L906.1 198.3 L909.1 194.5 L912.1 191.0 L915.1 187.7 L918.1 184.6 L921.1 181.6 L924.1 178.8 L927.1 176.1 L930.1 173.6 L933.1 171.3 L936.1 169.2 L939.2 167.2 L942.2 165.3 L945.2 163.5 L948.2 161.8 L951.2 160.3 L954.2 159.0 L957.2 157.9 L960.2 157.0 L963.2 156.2 L966.2 155.5 L969.2 154.8 L972.2 154.2 L975.2 153.6 L978.2 153.1 L981.2 152.6 L984.2 152.1 L987.2 151.8 L990.2 151.5 L993.3 151.3 L996.3 151.1 L999.3 151.0 L1002.3 151.2 L1005.3 152.0 L1008.3 153.1 L1011.3 155.0 L1014.3 157.6 L1017.3 160.0 L1020.3 162.2 L1023.3 164.4 L1026.3 166.6 L1029.3 168.9 L1032.3 171.3 L1035.3 173.7 L1038.3 176.2 L1041.3 178.7 L1044.3 181.3 L1047.4 183.9 L1050.4 186.6 L1053.4 189.3 L1056.4 192.2 L1059.4 195.1 L1062.4 198.1 L1065.4 201.1 L1068.4 204.3 L1071.4 207.5 L1074.4 211.0 L1077.4 214.7 L1080.4 218.3 L1083.4 221.9 L1086.4 225.4 L1089.4 228.5 L1092.4 231.5 L1095.4 234.4 L1098.5 237.4 L1101.5 240.8 L1104.5 244.3 L1107.5 247.9 L1110.5 251.6 L1113.5 255.4 L1116.5 259.2 L1119.5 263.2 L1122.5 267.2 L1125.5 271.3 L1128.5 275.4 L1131.5 279.6 L1134.5 283.9 L1137.5 288.2 L1140.5 292.6 L1143.5 297.1 L1146.5 301.6 L1149.5 306.1 L1152.6 310.7 L1155.6 315.3 L1158.6 319.9 L1161.6 324.6 L1164.6 329.3 L1167.6 334.1 L1170.6 338.8 L1173.6 343.6 L1176.6 348.4 L1179.6 353.2 L1182.6 358.1 L1185.6 362.9 L1188.6 367.8 L1191.6 372.6 L1194.6 377.4 L1197.6 382.3 L1200.6 387.1 L1203.6 391.9 L1206.7 396.7 L1209.7 401.5 L1212.7 406.3 L1215.7 411.0 L1218.7 415.8 L1221.7 420.4 L1224.7 425.1 L1227.7 429.8 L1230.7 434.5 L1233.7 439.3 L1236.7 444.0 L1239.7 448.7 L1242.7 453.5 L1245.7 458.3 L1248.7 463.1 L1251.7 467.8 L1254.7 472.6 L1257.8 477.5 L1260.8 482.3 L1263.8 487.1 L1266.8 492.0 L1269.8 496.8 L1272.8 501.7 L1275.8 506.6 L1278.8 511.4 L1281.8 516.3 L1284.8 521.2 L1287.8 526.1 L1290.8 531.0 L1293.8 536.0 L1296.8 540.9 L1299.8 545.8 L1302.8 550.8 L1305.8 555.7 L1308.8 560.6 L1311.9 565.6 L1314.9 570.6 L1317.9 575.5 L1320.9 580.5 L1323.9 585.5 L1326.9 590.4 L1329.9 595.4 L1332.9 600.4 L1335.9 605.4 L1338.9 610.4 L1341.9 615.4 L1344.9 620.4 L1347.9 625.3 L1350.9 630.3 L1353.9 635.3 L1356.9 640.3 L1359.9 645.3 L1362.9 650.3 L1366.0 655.3 L1369.0 660.3 L1372.0 665.3 L1375.0 670.3 L1378.0 675.3 L1381.0 680.3 L1384.0 685.3 L1387.0 690.3 L1390.0 695.3 L1393.0 700.3 L1396.0 705.4 L1399.0 710.4 L1402.0 715.4 L1405.0 720.5 L1408.0 725.5 L1411.0 730.6 L1414.0 735.6 L1417.0 740.7 L1420.1 745.8 L1423.1 750.8 L1426.1 755.9 L1429.1 761.0 L1432.1 766.1 L1435.1 771.1 L1438.1 776.2 L1441.1 781.3 L1444.1 786.4 L1447.1 791.5 L1450.1 796.6 L1453.1 801.7 L1456.1 806.8 L1459.1 811.9 L1462.1 817.0 L1465.1 822.1 L1468.1 827.3 L1471.2 832.4 L1474.2 837.5 L1477.2 842.6 L1480.2 847.7 L1483.2 852.8 L1486.2 857.9 L1489.2 863.0 L1492.2 868.1 L1495.2 873.2 L1498.2 878.3 L1501.2 883.4 L1504.2 888.5 L1507.2 893.6 L1510.2 898.7 L1513.2 903.8 L1516.2 908.9 L1519.2 914.0 L1522.2 919.0 L1525.3 924.1 L1528.3 929.2 L1531.3 934.3 L1534.3 939.4 L1537.3 944.5 L1540.3 949.6 L1543.3 954.7 L1546.3 959.8 L1549.3 964.9 L1552.3 970.0 L1555.3 975.1 L1558.3 980.2 L1561.3 985.3 L1564.3 990.4 L1567.3 995.5 L1570.3 1000.6 L1573.3 1005.7 L1576.3 1010.8 L1579.4 1015.9 L1582.4 1021.0 L1585.4 1026.1 L1588.4 1031.2 L1591.4 1036.3 L1594.4 1041.4 L1597.4 1046.5 L1600.4 1051.6 L1603.4 1056.7 L1606.5 1054.0 L1609.6 1051.4 L1612.7 1048.8 L1615.8 1046.2 L1618.9 1043.6 L1622.0 1041.0" stroke="#e83030" stroke-width="5.2" stroke-linecap="butt" stroke-dasharray="12 21"/>
<path d="M249.5 1068.0 L262.0 1068.5 L265.3 1075.5 L268.6 1080.6 L271.9 1085.1 L275.2 1088.6 L278.5 1090.5 L281.7 1088.3 L284.8 1086.1 L288.0 1084.0 L291.2 1081.9 L294.3 1079.8 L297.5 1077.6 L300.7 1075.3 L303.8 1073.6 L307.0 1072.4 L310.2 1071.6 L313.3 1071.3 L316.5 1071.1 L319.7 1070.9 L322.8 1070.8 L326.0 1070.8 L329.0 1068.5 L332.0 1066.0 L335.0 1063.2 L338.0 1060.4 L341.0 1057.4 L344.0 1054.2 L347.0 1051.0 L350.0 1047.7 L353.1 1044.4 L356.1 1041.0 L359.1 1037.5 L362.1 1034.1 L365.1 1030.6 L368.1 1027.2 L371.1 1023.6 L374.1 1020.0 L377.1 1016.4 L380.1 1012.7 L383.1 1008.9 L386.1 1005.2 L389.1 1001.5 L392.1 997.8 L395.1 994.1 L398.1 990.6 L401.1 987.0 L404.1 983.5 L407.2 980.0 L410.2 976.5 L413.2 973.0 L416.2 969.4 L419.2 965.9 L422.2 962.3 L425.2 958.6 L428.2 954.9 L431.2 951.0 L434.2 947.1 L437.2 943.2 L440.2 939.2 L443.2 935.1 L446.2 931.0 L449.2 926.8 L452.2 922.6 L455.2 918.3 L458.2 914.0 L461.3 909.7 L464.3 905.3 L467.3 901.0 L470.3 896.5 L473.3 892.1 L476.3 887.7 L479.3 883.2 L482.3 878.7 L485.3 874.2 L488.3 869.7 L491.3 865.2 L494.3 860.8 L497.3 856.3 L500.3 851.8 L503.3 847.3 L506.3 842.9 L509.3 838.4 L512.4 834.0 L515.4 829.6 L518.4 825.2 L521.4 820.9 L524.4 816.6 L527.4 812.4 L530.4 808.2 L533.4 803.9 L536.4 799.7 L539.4 795.5 L542.4 791.2 L545.4 786.8 L548.4 782.4 L551.4 777.8 L554.4 773.1 L557.4 768.4 L560.4 763.5 L563.4 758.6 L566.5 753.6 L569.5 748.7 L572.5 743.7 L575.5 738.8 L578.5 733.9 L581.5 729.1 L584.5 724.2 L587.5 719.4 L590.5 714.6 L593.5 709.8 L596.5 705.0 L599.5 700.2 L602.5 695.4 L605.5 690.6 L608.5 685.8 L611.5 681.0 L614.5 676.2 L617.5 671.4 L620.6 666.6 L623.6 661.9 L626.6 657.1 L629.6 652.3 L632.6 647.5 L635.6 642.7 L638.6 637.9 L641.6 633.1 L644.6 628.3 L647.6 623.5 L650.6 618.7 L653.6 613.9 L656.6 609.1 L659.6 604.3 L662.6 599.5 L665.6 594.6 L668.6 589.8 L671.6 584.9 L674.7 580.1 L677.7 575.2 L680.7 570.3 L683.7 565.4 L686.7 560.5 L689.7 555.6 L692.7 550.7 L695.7 545.8 L698.7 540.9 L701.7 536.0 L704.7 531.1 L707.7 526.1 L710.7 521.2 L713.7 516.3 L716.7 511.4 L719.7 506.5 L722.7 501.5 L725.8 496.6 L728.8 491.7 L731.8 486.7 L734.8 481.8 L737.8 476.8 L740.8 471.9 L743.8 466.9 L746.8 461.9 L749.8 456.9 L752.8 452.0 L755.8 447.0 L758.8 442.0 L761.8 437.0 L764.8 432.0 L767.8 426.9 L770.8 421.9 L773.8 416.9 L776.8 411.8 L779.9 406.8 L782.9 401.7 L785.9 396.7 L788.9 391.6 L791.9 386.5 L794.9 381.4 L797.9 376.3 L800.9 371.1 L803.9 366.0 L806.9 360.8 L809.9 355.7 L812.9 350.5 L815.9 345.3 L818.9 340.1 L821.9 334.9 L824.9 329.5 L827.9 324.1 L830.9 318.6 L834.0 313.1 L837.0 307.6 L840.0 302.1 L843.0 296.6 L846.0 291.1 L849.0 285.7 L852.0 280.3 L855.0 275.1 L858.0 269.9 L861.0 264.9 L864.0 260.0 L867.0 255.2 L870.0 250.4 L873.0 245.8 L876.0 241.2 L879.0 236.7 L882.0 232.3 L885.1 227.9 L888.1 223.6 L891.1 219.3 L894.1 215.1 L897.1 210.8 L900.1 206.5 L903.1 202.3 L906.1 198.3 L909.1 194.5 L912.1 191.0 L915.1 187.7 L918.1 184.6 L921.1 181.6 L924.1 178.8 L927.1 176.1 L930.1 173.6 L933.1 171.3 L936.1 169.2 L939.2 167.2 L942.2 165.3 L945.2 163.5 L948.2 161.8 L951.2 160.3 L954.2 159.0 L957.2 157.9 L960.2 157.0 L963.2 156.2 L966.2 155.5 L969.2 154.8 L972.2 154.2 L975.2 153.6 L978.2 153.1 L981.2 152.6 L984.2 152.1 L987.2 151.8 L990.2 151.5 L993.3 151.3 L996.3 151.1 L999.3 151.0 L1002.3 151.2 L1005.3 152.0 L1008.3 153.1 L1011.3 155.0 L1014.3 157.6 L1017.3 160.0 L1020.3 162.2 L1023.3 164.4 L1026.3 166.6 L1029.3 168.9 L1032.3 171.3 L1035.3 173.7 L1038.3 176.2 L1041.3 178.7 L1044.3 181.3 L1047.4 183.9 L1050.4 186.6 L1053.4 189.3 L1056.4 192.2 L1059.4 195.1 L1062.4 198.1 L1065.4 201.1 L1068.4 204.3 L1071.4 207.5 L1074.4 211.0 L1077.4 214.7 L1080.4 218.3 L1083.4 221.9 L1086.4 225.4 L1089.4 228.5 L1092.4 231.5 L1095.4 234.4 L1098.5 237.4 L1101.5 240.8 L1104.5 244.3 L1107.5 247.9 L1110.5 251.6 L1113.5 255.4 L1116.5 259.2 L1119.5 263.2 L1122.5 267.2 L1125.5 271.3 L1128.5 275.4 L1131.5 279.6 L1134.5 283.9 L1137.5 288.2 L1140.5 292.6 L1143.5 297.1 L1146.5 301.6 L1149.5 306.1 L1152.6 310.7 L1155.6 315.3 L1158.6 319.9 L1161.6 324.6 L1164.6 329.3 L1167.6 334.1 L1170.6 338.8 L1173.6 343.6 L1176.6 348.4 L1179.6 353.2 L1182.6 358.1 L1185.6 362.9 L1188.6 367.8 L1191.6 372.6 L1194.6 377.4 L1197.6 382.3 L1200.6 387.1 L1203.6 391.9 L1206.7 396.7 L1209.7 401.5 L1212.7 406.3 L1215.7 411.0 L1218.7 415.8 L1221.7 420.4 L1224.7 425.1 L1227.7 429.8 L1230.7 434.5 L1233.7 439.3 L1236.7 444.0 L1239.7 448.7 L1242.7 453.5 L1245.7 458.3 L1248.7 463.1 L1251.7 467.8 L1254.7 472.6 L1257.8 477.5 L1260.8 482.3 L1263.8 487.1 L1266.8 492.0 L1269.8 496.8 L1272.8 501.7 L1275.8 506.6 L1278.8 511.4 L1281.8 516.3 L1284.8 521.2 L1287.8 526.1 L1290.8 531.0 L1293.8 536.0 L1296.8 540.9 L1299.8 545.8 L1302.8 550.8 L1305.8 555.7 L1308.8 560.6 L1311.9 565.6 L1314.9 570.6 L1317.9 575.5 L1320.9 580.5 L1323.9 585.5 L1326.9 590.4 L1329.9 595.4 L1332.9 600.4 L1335.9 605.4 L1338.9 610.4 L1341.9 615.4 L1344.9 620.4 L1347.9 625.3 L1350.9 630.3 L1353.9 635.3 L1356.9 640.3 L1359.9 645.3 L1362.9 650.3 L1366.0 655.3 L1369.0 660.3 L1372.0 665.3 L1375.0 670.3 L1378.0 675.3 L1381.0 680.3 L1384.0 685.3 L1387.0 690.3 L1390.0 695.3 L1393.0 700.3 L1396.0 705.4 L1399.0 710.4 L1402.0 715.4 L1405.0 720.5 L1408.0 725.5 L1411.0 730.6 L1414.0 735.6 L1417.0 740.7 L1420.1 745.8 L1423.1 750.8 L1426.1 755.9 L1429.1 761.0 L1432.1 766.1 L1435.1 771.1 L1438.1 776.2 L1441.1 781.3 L1444.1 786.4 L1447.1 791.5 L1450.1 796.6 L1453.1 801.7 L1456.1 806.8 L1459.1 811.9 L1462.1 817.0 L1465.1 822.1 L1468.1 827.3 L1471.2 832.4 L1474.2 837.5 L1477.2 842.6 L1480.2 847.7 L1483.2 852.8 L1486.2 857.9 L1489.2 863.0 L1492.2 868.1 L1495.2 873.2 L1498.2 878.3 L1501.2 883.4 L1504.2 888.5 L1507.2 893.6 L1510.2 898.7 L1513.2 903.8 L1516.2 908.9 L1519.2 914.0 L1522.2 919.0 L1525.3 924.1 L1528.3 929.2 L1531.3 934.3 L1534.3 939.4 L1537.3 944.5 L1540.3 949.6 L1543.3 954.7 L1546.3 959.8 L1549.3 964.9 L1552.3 970.0 L1555.3 975.1 L1558.3 980.2 L1561.3 985.3 L1564.3 990.4 L1567.3 995.5 L1570.3 1000.6 L1573.3 1005.7 L1576.3 1010.8 L1579.4 1015.9 L1582.4 1021.0 L1585.4 1026.1 L1588.4 1031.2 L1591.4 1036.3 L1594.4 1041.4 L1597.4 1046.5 L1600.4 1051.6 L1603.4 1056.7 L1606.5 1054.0 L1609.6 1051.4 L1612.7 1048.8 L1615.8 1046.2 L1618.9 1043.6 L1622.0 1041.0" stroke="#2aa838" stroke-width="5.2" stroke-linecap="butt" stroke-dasharray="12 21" stroke-dashoffset="16.5"/>
<path d="M249.5 1068.0 L262.0 1068.5 L265.3 1075.5 L268.6 1080.6 L271.9 1085.1 L275.2 1088.6 L278.5 1090.5 L281.7 1088.3 L284.8 1086.1 L288.0 1084.0 L291.2 1081.9 L294.3 1079.8 L297.5 1077.6 L300.7 1075.3 L303.8 1073.6 L307.0 1072.4 L310.2 1071.6 L313.3 1071.3 L316.5 1071.1 L319.7 1070.9 L322.8 1070.8 L326.0 1070.8 L329.0 1068.5 L332.0 1066.0 L335.0 1063.2 L338.0 1060.4 L341.0 1057.4 L344.0 1054.2 L347.0 1051.0 L350.0 1047.7 L353.1 1044.4 L356.1 1041.0 L359.1 1037.5 L362.1 1034.1 L365.1 1030.6 L368.1 1027.2 L371.1 1023.6 L374.1 1020.0 L377.1 1016.4 L380.1 1012.7 L383.1 1008.9 L386.1 1005.2 L389.1 1001.5 L392.1 997.8 L395.1 994.1 L398.1 990.6 L401.1 987.0 L404.1 983.5 L407.2 980.0 L410.2 976.5 L413.2 973.0 L416.2 969.4 L419.2 965.9 L422.2 962.3 L425.2 958.6 L428.2 954.9 L431.2 951.0 L434.2 947.1 L437.2 943.2 L440.2 939.2 L443.2 935.1 L446.2 931.0 L449.2 926.8 L452.2 922.6 L455.2 918.3 L458.2 914.0 L461.3 909.7 L464.3 905.3 L467.3 901.0 L470.3 896.5 L473.3 892.1 L476.3 887.7 L479.3 883.2 L482.3 878.7 L485.3 874.2 L488.3 869.7 L491.3 865.2 L494.3 860.8 L497.3 856.3 L500.3 851.8 L503.3 847.3 L506.3 842.9 L509.3 838.4 L512.4 834.0 L515.4 829.6 L518.4 825.2 L521.4 820.9 L524.4 816.6 L527.4 812.4 L530.4 808.2 L533.4 803.9 L536.4 799.7 L539.4 795.5 L542.4 791.2 L545.4 786.8 L548.4 782.4 L551.4 777.8 L554.4 773.1 L557.4 768.4 L560.4 763.5 L563.4 758.6 L566.5 753.6 L569.5 748.7 L572.5 743.7 L575.5 738.8 L578.5 733.9 L581.5 729.1 L584.5 724.2 L587.5 719.4 L590.5 714.6 L593.5 709.8 L596.5 705.0 L599.5 700.2 L602.5 695.4 L605.5 690.6 L608.5 685.8 L611.5 681.0 L614.5 676.2 L617.5 671.4 L620.6 666.6 L623.6 661.9 L626.6 657.1 L629.6 652.3 L632.6 647.5 L635.6 642.7 L638.6 637.9 L641.6 633.1 L644.6 628.3 L647.6 623.5 L650.6 618.7 L653.6 613.9 L656.6 609.1 L659.6 604.3 L662.6 599.5 L665.6 594.6 L668.6 589.8 L671.6 584.9 L674.7 580.1 L677.7 575.2 L680.7 570.3 L683.7 565.4 L686.7 560.5 L689.7 555.6 L692.7 550.7 L695.7 545.8 L698.7 540.9 L701.7 536.0 L704.7 531.1 L707.7 526.1 L710.7 521.2 L713.7 516.3 L716.7 511.4 L719.7 506.5 L722.7 501.5 L725.8 496.6 L728.8 491.7 L731.8 486.7 L734.8 481.8 L737.8 476.8 L740.8 471.9 L743.8 466.9 L746.8 461.9 L749.8 456.9 L752.8 452.0 L755.8 447.0 L758.8 442.0 L761.8 437.0 L764.8 432.0 L767.8 426.9 L770.8 421.9 L773.8 416.9 L776.8 411.8 L779.9 406.8 L782.9 401.7 L785.9 396.7 L788.9 391.6 L791.9 386.5 L794.9 381.4 L797.9 376.3 L800.9 371.1 L803.9 366.0 L806.9 360.8 L809.9 355.7 L812.9 350.5 L815.9 345.3 L818.9 340.1 L821.9 334.9 L824.9 329.5 L827.9 324.1 L830.9 318.6 L834.0 313.1 L837.0 307.6 L840.0 302.1 L843.0 296.6 L846.0 291.1 L849.0 285.7 L852.0 280.3 L855.0 275.1 L858.0 269.9 L861.0 264.9 L864.0 260.0 L867.0 255.2 L870.0 250.4 L873.0 245.8 L876.0 241.2 L879.0 236.7 L882.0 232.3 L885.1 227.9 L888.1 223.6 L891.1 219.3 L894.1 215.1 L897.1 210.8 L900.1 206.5 L903.1 202.3 L906.1 198.3 L909.1 194.5 L912.1 191.0 L915.1 187.7 L918.1 184.6 L921.1 181.6 L924.1 178.8 L927.1 176.1 L930.1 173.6 L933.1 171.3 L936.1 169.2 L939.2 167.2 L942.2 165.3 L945.2 163.5 L948.2 161.8 L951.2 160.3 L954.2 159.0 L957.2 157.9 L960.2 157.0 L963.2 156.2 L966.2 155.5 L969.2 154.8 L972.2 154.2 L975.2 153.6 L978.2 153.1 L981.2 152.6 L984.2 152.1 L987.2 151.8 L990.2 151.5 L993.3 151.3 L996.3 151.1 L999.3 151.0 L1002.3 151.2 L1005.3 152.0 L1008.3 153.1 L1011.3 155.0 L1014.3 157.6 L1017.3 160.0 L1020.3 162.2 L1023.3 164.4 L1026.3 166.6 L1029.3 168.9 L1032.3 171.3 L1035.3 173.7 L1038.3 176.2 L1041.3 178.7 L1044.3 181.3 L1047.4 183.9 L1050.4 186.6 L1053.4 189.3 L1056.4 192.2 L1059.4 195.1 L1062.4 198.1 L1065.4 201.1 L1068.4 204.3 L1071.4 207.5 L1074.4 211.0 L1077.4 214.7 L1080.4 218.3 L1083.4 221.9 L1086.4 225.4 L1089.4 228.5 L1092.4 231.5 L1095.4 234.4 L1098.5 237.4 L1101.5 240.8 L1104.5 244.3 L1107.5 247.9 L1110.5 251.6 L1113.5 255.4 L1116.5 259.2 L1119.5 263.2 L1122.5 267.2 L1125.5 271.3 L1128.5 275.4 L1131.5 279.6 L1134.5 283.9 L1137.5 288.2 L1140.5 292.6 L1143.5 297.1 L1146.5 301.6 L1149.5 306.1 L1152.6 310.7 L1155.6 315.3 L1158.6 319.9 L1161.6 324.6 L1164.6 329.3 L1167.6 334.1 L1170.6 338.8 L1173.6 343.6 L1176.6 348.4 L1179.6 353.2 L1182.6 358.1 L1185.6 362.9 L1188.6 367.8 L1191.6 372.6 L1194.6 377.4 L1197.6 382.3 L1200.6 387.1 L1203.6 391.9 L1206.7 396.7 L1209.7 401.5 L1212.7 406.3 L1215.7 411.0 L1218.7 415.8 L1221.7 420.4 L1224.7 425.1 L1227.7 429.8 L1230.7 434.5 L1233.7 439.3 L1236.7 444.0 L1239.7 448.7 L1242.7 453.5 L1245.7 458.3 L1248.7 463.1 L1251.7 467.8 L1254.7 472.6 L1257.8 477.5 L1260.8 482.3 L1263.8 487.1 L1266.8 492.0 L1269.8 496.8 L1272.8 501.7 L1275.8 506.6 L1278.8 511.4 L1281.8 516.3 L1284.8 521.2 L1287.8 526.1 L1290.8 531.0 L1293.8 536.0 L1296.8 540.9 L1299.8 545.8 L1302.8 550.8 L1305.8 555.7 L1308.8 560.6 L1311.9 565.6 L1314.9 570.6 L1317.9 575.5 L1320.9 580.5 L1323.9 585.5 L1326.9 590.4 L1329.9 595.4 L1332.9 600.4 L1335.9 605.4 L1338.9 610.4 L1341.9 615.4 L1344.9 620.4 L1347.9 625.3 L1350.9 630.3 L1353.9 635.3 L1356.9 640.3 L1359.9 645.3 L1362.9 650.3 L1366.0 655.3 L1369.0 660.3 L1372.0 665.3 L1375.0 670.3 L1378.0 675.3 L1381.0 680.3 L1384.0 685.3 L1387.0 690.3 L1390.0 695.3 L1393.0 700.3 L1396.0 705.4 L1399.0 710.4 L1402.0 715.4 L1405.0 720.5 L1408.0 725.5 L1411.0 730.6 L1414.0 735.6 L1417.0 740.7 L1420.1 745.8 L1423.1 750.8 L1426.1 755.9 L1429.1 761.0 L1432.1 766.1 L1435.1 771.1 L1438.1 776.2 L1441.1 781.3 L1444.1 786.4 L1447.1 791.5 L1450.1 796.6 L1453.1 801.7 L1456.1 806.8 L1459.1 811.9 L1462.1 817.0 L1465.1 822.1 L1468.1 827.3 L1471.2 832.4 L1474.2 837.5 L1477.2 842.6 L1480.2 847.7 L1483.2 852.8 L1486.2 857.9 L1489.2 863.0 L1492.2 868.1 L1495.2 873.2 L1498.2 878.3 L1501.2 883.4 L1504.2 888.5 L1507.2 893.6 L1510.2 898.7 L1513.2 903.8 L1516.2 908.9 L1519.2 914.0 L1522.2 919.0 L1525.3 924.1 L1528.3 929.2 L1531.3 934.3 L1534.3 939.4 L1537.3 944.5 L1540.3 949.6 L1543.3 954.7 L1546.3 959.8 L1549.3 964.9 L1552.3 970.0 L1555.3 975.1 L1558.3 980.2 L1561.3 985.3 L1564.3 990.4 L1567.3 995.5 L1570.3 1000.6 L1573.3 1005.7 L1576.3 1010.8 L1579.4 1015.9 L1582.4 1021.0 L1585.4 1026.1 L1588.4 1031.2 L1591.4 1036.3 L1594.4 1041.4 L1597.4 1046.5 L1600.4 1051.6 L1603.4 1056.7 L1606.5 1054.0 L1609.6 1051.4 L1612.7 1048.8 L1615.8 1046.2 L1618.9 1043.6 L1622.0 1041.0" stroke="#181818" stroke-width="3.8" stroke-linecap="butt" stroke-dasharray="5 5.9"/>
<path d="M249.5 1066.6 L262.0 1066.8 L265.2 1077.8 L268.4 1084.0 L271.6 1088.6 L274.8 1091.5 L278.0 1092.5 L281.1 1090.3 L284.3 1088.0 L287.4 1085.6 L290.6 1083.2 L293.7 1080.7 L296.9 1078.2 L300.0 1075.2 L303.1 1073.0 L306.3 1071.8 L309.4 1071.1 L312.6 1070.8 L315.7 1070.5 L318.9 1070.4 L322.0 1070.3 L325.0 1067.1 L328.0 1063.8 L331.0 1060.3 L334.0 1056.9 L337.0 1053.4 L340.0 1049.8 L343.0 1046.2 L346.0 1042.6 L349.0 1039.0 L352.0 1035.4 L355.0 1031.8 L358.0 1028.1 L361.0 1024.5 L364.0 1020.9 L367.0 1017.2 L370.0 1013.5 L373.0 1009.9 L376.0 1006.2 L379.0 1002.5 L382.0 998.9 L385.0 995.2 L388.0 991.6 L391.0 988.1 L394.0 984.6 L397.0 981.1 L400.0 977.6 L403.0 974.1 L406.0 970.5 L409.0 967.0 L412.0 963.4 L415.0 959.8 L418.0 956.1 L421.0 952.3 L424.0 948.4 L427.0 944.5 L430.0 940.5 L433.0 936.4 L436.0 932.4 L439.0 928.2 L442.0 924.0 L445.0 919.8 L448.0 915.6 L451.0 911.3 L454.0 907.0 L457.0 902.6 L460.0 898.2 L463.0 893.8 L466.0 889.4 L469.0 885.0 L472.0 880.5 L475.0 876.0 L478.0 871.6 L481.0 867.1 L484.1 862.6 L487.1 858.1 L490.1 853.6 L493.1 849.1 L496.1 844.7 L499.1 840.2 L502.1 835.8 L505.1 831.3 L508.1 826.9 L511.1 822.5 L514.1 818.2 L517.1 813.8 L520.1 809.5 L523.1 805.2 L526.1 800.9 L529.1 796.5 L532.1 792.2 L535.1 787.7 L538.1 783.2 L541.1 778.7 L544.1 774.0 L547.1 769.3 L550.1 764.5 L553.1 759.6 L556.1 754.7 L559.1 749.8 L562.1 744.9 L565.1 740.1 L568.1 735.2 L571.1 730.4 L574.1 725.5 L577.1 720.7 L580.1 715.9 L583.1 711.1 L586.1 706.2 L589.1 701.4 L592.1 696.6 L595.1 691.7 L598.1 686.9 L601.1 682.1 L604.1 677.3 L607.1 672.4 L610.1 667.6 L613.1 662.8 L616.1 658.0 L619.1 653.1 L622.1 648.3 L625.1 643.4 L628.1 638.6 L631.1 633.8 L634.1 628.9 L637.1 624.1 L640.1 619.2 L643.1 614.4 L646.1 609.5 L649.1 604.6 L652.1 599.8 L655.1 594.9 L658.1 590.0 L661.1 585.1 L664.1 580.3 L667.1 575.4 L670.1 570.5 L673.1 565.6 L676.1 560.6 L679.1 555.7 L682.1 550.8 L685.1 545.9 L688.1 541.0 L691.1 536.1 L694.1 531.2 L697.1 526.2 L700.1 521.3 L703.1 516.4 L706.1 511.5 L709.1 506.6 L712.1 501.7 L715.1 496.8 L718.1 491.8 L721.1 486.9 L724.1 482.0 L727.1 477.0 L730.1 472.1 L733.1 467.2 L736.1 462.2 L739.1 457.3 L742.1 452.3 L745.1 447.3 L748.1 442.4 L751.1 437.4 L754.1 432.4 L757.1 427.4 L760.1 422.4 L763.1 417.4 L766.1 412.4 L769.1 407.4 L772.1 402.3 L775.1 397.3 L778.1 392.3 L781.1 387.2 L784.1 382.1 L787.1 377.0 L790.1 371.9 L793.1 366.8 L796.1 361.7 L799.1 356.6 L802.1 351.4 L805.2 346.3 L808.2 341.1 L811.2 335.9 L814.2 330.6 L817.2 325.3 L820.2 319.9 L823.2 314.4 L826.2 309.0 L829.2 303.5 L832.2 298.1 L835.2 292.6 L838.2 287.2 L841.2 281.9 L844.2 276.6 L847.2 271.4 L850.2 266.3 L853.2 261.3 L856.2 256.4 L859.2 251.6 L862.2 246.8 L865.2 242.1 L868.2 237.5 L871.2 232.9 L874.2 228.3 L877.2 223.9 L880.2 219.4 L883.2 215.1 L886.2 210.7 L889.2 206.3 L892.2 202.0 L895.2 197.8 L898.2 193.8 L901.2 190.1 L904.2 186.6 L907.2 183.3 L910.2 180.1 L913.2 177.0 L916.2 174.1 L919.2 171.4 L922.2 168.8 L925.2 166.5 L928.2 164.4 L931.2 162.4 L934.2 160.4 L937.2 158.5 L940.2 156.8 L943.2 155.2 L946.2 153.7 L949.2 152.5 L952.2 151.5 L955.2 150.7 L958.2 150.0 L961.2 149.4 L964.2 148.8 L967.2 148.3 L970.2 147.9 L973.2 147.4 L976.2 147.0 L979.2 146.7 L982.2 146.3 L985.2 145.6 L988.2 144.6 L991.2 143.7 L994.2 143.3 L997.2 143.6 L1000.2 144.3 L1003.2 145.4 L1006.2 147.8 L1009.2 151.3 L1012.2 155.9 L1015.2 159.9 L1018.2 162.7 L1021.2 165.2 L1024.2 167.7 L1027.2 170.4 L1030.2 173.2 L1033.2 175.9 L1036.2 178.8 L1039.2 181.6 L1042.2 184.4 L1045.2 187.3 L1048.2 190.2 L1051.2 193.1 L1054.2 196.0 L1057.2 199.1 L1060.2 202.2 L1063.2 205.5 L1066.2 209.1 L1069.2 212.8 L1072.2 216.6 L1075.2 220.4 L1078.2 224.2 L1081.2 227.8 L1084.2 231.4 L1087.2 235.0 L1090.2 238.7 L1093.2 242.7 L1096.2 246.7 L1099.2 250.8 L1102.2 254.9 L1105.2 259.1 L1108.2 263.3 L1111.2 267.6 L1114.2 271.9 L1117.2 276.3 L1120.2 280.7 L1123.3 285.1 L1126.3 289.6 L1129.3 294.1 L1132.3 298.7 L1135.3 303.3 L1138.3 307.9 L1141.3 312.5 L1144.3 317.2 L1147.3 321.8 L1150.3 326.5 L1153.3 331.3 L1156.3 336.0 L1159.3 340.8 L1162.3 345.5 L1165.3 350.3 L1168.3 355.1 L1171.3 359.9 L1174.3 364.7 L1177.3 369.5 L1180.3 374.3 L1183.3 379.1 L1186.3 383.9 L1189.3 388.7 L1192.3 393.5 L1195.3 398.3 L1198.3 403.0 L1201.3 407.8 L1204.3 412.6 L1207.3 417.3 L1210.3 422.0 L1213.3 426.7 L1216.3 431.5 L1219.3 436.2 L1222.3 440.9 L1225.3 445.7 L1228.3 450.4 L1231.3 455.2 L1234.3 460.0 L1237.3 464.7 L1240.3 469.5 L1243.3 474.3 L1246.3 479.1 L1249.3 483.9 L1252.3 488.7 L1255.3 493.5 L1258.3 498.3 L1261.3 503.1 L1264.3 508.0 L1267.3 512.8 L1270.3 517.6 L1273.3 522.5 L1276.3 527.3 L1279.3 532.2 L1282.3 537.1 L1285.3 541.9 L1288.3 546.8 L1291.3 551.7 L1294.3 556.5 L1297.3 561.4 L1300.3 566.3 L1303.3 571.2 L1306.3 576.1 L1309.3 581.0 L1312.3 585.9 L1315.3 590.8 L1318.3 595.7 L1321.3 600.6 L1324.3 605.6 L1327.3 610.5 L1330.3 615.4 L1333.3 620.3 L1336.3 625.3 L1339.3 630.2 L1342.3 635.2 L1345.3 640.1 L1348.3 645.0 L1351.3 650.0 L1354.3 654.9 L1357.3 659.9 L1360.3 664.8 L1363.3 669.8 L1366.3 674.8 L1369.3 679.7 L1372.3 684.7 L1375.3 689.6 L1378.3 694.6 L1381.3 699.6 L1384.3 704.6 L1387.3 709.6 L1390.3 714.6 L1393.3 719.6 L1396.3 724.6 L1399.3 729.6 L1402.3 734.6 L1405.3 739.6 L1408.3 744.6 L1411.3 749.7 L1414.3 754.7 L1417.3 759.7 L1420.3 764.8 L1423.3 769.8 L1426.3 774.9 L1429.3 779.9 L1432.3 785.0 L1435.3 790.1 L1438.3 795.1 L1441.3 800.2 L1444.4 805.3 L1447.4 810.4 L1450.4 815.4 L1453.4 820.5 L1456.4 825.6 L1459.4 830.7 L1462.4 835.8 L1465.4 840.9 L1468.4 846.0 L1471.4 851.1 L1474.4 856.2 L1477.4 861.3 L1480.4 866.4 L1483.4 871.6 L1486.4 876.7 L1489.4 881.8 L1492.4 886.9 L1495.4 892.1 L1498.4 897.2 L1501.4 902.3 L1504.4 907.5 L1507.4 912.6 L1510.4 917.8 L1513.4 922.9 L1516.4 928.1 L1519.4 933.3 L1522.4 938.4 L1525.4 943.6 L1528.4 948.8 L1531.4 954.0 L1534.4 959.1 L1537.4 964.3 L1540.4 969.5 L1543.4 974.7 L1546.4 979.9 L1549.4 985.1 L1552.4 990.3 L1555.4 995.5 L1558.4 1000.8 L1561.4 1006.0 L1564.4 1011.2 L1567.4 1016.4 L1570.4 1021.7 L1573.4 1026.9 L1576.4 1032.2 L1579.4 1037.4 L1582.4 1042.7 L1585.4 1047.9 L1588.4 1053.2 L1591.4 1058.4 L1594.4 1063.7 L1597.4 1069.0 L1600.4 1074.2 L1603.4 1079.5 L1606.5 1076.2 L1609.6 1072.9 L1612.7 1069.6 L1615.8 1066.2 L1618.9 1062.9 L1622.0 1059.5" stroke="#000" stroke-width="6.6" stroke-linecap="butt"/>
<path d="M249.5 1067.0 L252.5 1067.4 L255.5 1067.8 L258.5 1068.1 L261.5 1068.5 L264.5 1068.8 L267.5 1069.1 L270.5 1069.4 L273.5 1069.7 L276.5 1070.0 L279.5 1070.2 L282.5 1070.5 L285.5 1070.7 L288.5 1070.9 L291.5 1071.1 L294.5 1071.3 L297.6 1071.4 L300.6 1071.5 L303.6 1071.7 L306.6 1071.8 L309.6 1072.0 L312.6 1072.2 L315.6 1072.5 L318.6 1072.9 L321.6 1073.2 L324.6 1073.4 L327.6 1073.5 L330.6 1073.2 L333.6 1072.5 L336.6 1071.6 L339.6 1070.6 L342.6 1069.7 L345.6 1068.5 L348.6 1067.2 L351.6 1065.8 L354.6 1064.2 L357.6 1062.5 L360.6 1060.7 L363.6 1058.4 L366.6 1055.8 L369.6 1053.0 L372.6 1050.1 L375.6 1047.3 L378.6 1044.6 L381.6 1042.0 L384.6 1039.5 L387.7 1036.9 L390.7 1034.4 L393.7 1031.9 L396.7 1029.4 L399.7 1026.8 L402.7 1024.3 L405.7 1021.6 L408.7 1018.9 L411.7 1016.2 L414.7 1013.5 L417.7 1010.7 L420.7 1007.9 L423.7 1005.0 L426.7 1002.1 L429.7 999.2 L432.7 996.3 L435.7 993.3 L438.7 990.4 L441.7 987.4 L444.7 984.4 L447.7 981.4 L450.7 978.4 L453.7 975.3 L456.7 972.2 L459.7 969.1 L462.7 965.9 L465.7 962.7 L468.7 959.4 L471.7 956.0 L474.7 952.6 L477.7 949.1 L480.8 945.6 L483.8 942.0 L486.8 938.4 L489.8 934.7 L492.8 931.0 L495.8 927.2 L498.8 923.5 L501.8 919.6 L504.8 915.8 L507.8 911.8 L510.8 907.9 L513.8 903.9 L516.8 899.9 L519.8 895.9 L522.8 891.8 L525.8 887.7 L528.8 883.5 L531.8 879.3 L534.8 875.1 L537.8 870.9 L540.8 866.6 L543.8 862.3 L546.8 858.0 L549.8 853.6 L552.8 849.2 L555.8 844.8 L558.8 840.4 L561.8 835.9 L564.8 831.4 L567.8 826.9 L570.9 822.4 L573.9 817.8 L576.9 813.3 L579.9 808.7 L582.9 804.1 L585.9 799.4 L588.9 794.7 L591.9 789.8 L594.9 784.9 L597.9 779.8 L600.9 774.6 L603.9 769.5 L606.9 764.2 L609.9 759.0 L612.9 753.8 L615.9 748.6 L618.9 743.5 L621.9 738.5 L624.9 733.5 L627.9 728.6 L630.9 723.7 L633.9 718.9 L636.9 714.0 L639.9 709.2 L642.9 704.5 L645.9 699.7 L648.9 694.9 L651.9 690.2 L654.9 685.5 L657.9 680.8 L660.9 676.1 L664.0 671.4 L667.0 666.7 L670.0 662.1 L673.0 657.4 L676.0 652.7 L679.0 648.1 L682.0 643.4 L685.0 638.8 L688.0 634.1 L691.0 629.5 L694.0 624.8 L697.0 620.1 L700.0 615.5 L703.0 610.8 L706.0 606.1 L709.0 601.4 L712.0 596.7 L715.0 591.9 L718.0 587.2 L721.0 582.4 L724.0 577.7 L727.0 572.9 L730.0 568.0 L733.0 563.2 L736.0 558.3 L739.0 553.5 L742.0 548.6 L745.0 543.7 L748.0 538.8 L751.0 534.0 L754.1 529.1 L757.1 524.2 L760.1 519.3 L763.1 514.4 L766.1 509.6 L769.1 504.7 L772.1 499.8 L775.1 494.9 L778.1 489.9 L781.1 485.0 L784.1 480.1 L787.1 475.2 L790.1 470.2 L793.1 465.3 L796.1 460.3 L799.1 455.3 L802.1 450.4 L805.1 445.4 L808.1 440.4 L811.1 435.3 L814.1 430.3 L817.1 425.3 L820.1 420.2 L823.1 415.1 L826.1 410.1 L829.1 405.0 L832.1 399.8 L835.1 394.7 L838.1 389.6 L841.1 384.4 L844.1 379.2 L847.2 374.0 L850.2 368.8 L853.2 363.5 L856.2 358.3 L859.2 353.0 L862.2 347.7 L865.2 342.4 L868.2 337.0 L871.2 331.5 L874.2 325.9 L877.2 320.2 L880.2 314.4 L883.2 308.6 L886.2 302.8 L889.2 297.1 L892.2 291.3 L895.2 285.6 L898.2 280.1 L901.2 274.6 L904.2 269.3 L907.2 264.1 L910.2 259.1 L913.2 254.2 L916.2 249.4 L919.2 244.9 L922.2 240.7 L925.2 236.8 L928.2 233.1 L931.2 229.6 L934.2 226.0 L937.3 222.5 L940.3 219.0 L943.3 215.4 L946.3 212.0 L949.3 208.7 L952.3 205.7 L955.3 203.0 L958.3 200.3 L961.3 197.8 L964.3 195.5 L967.3 193.2 L970.3 191.0 L973.3 188.9 L976.3 186.8 L979.3 184.8 L982.3 182.9 L985.3 181.0 L988.3 179.2 L991.3 177.4 L994.3 175.8 L997.3 174.3 L1000.3 172.9 L1003.3 171.5 L1006.3 170.1 L1009.3 168.8 L1012.3 167.6 L1015.3 166.6 L1018.3 165.8 L1021.3 165.3 L1024.3 164.9 L1027.4 164.5 L1030.4 164.2 L1033.4 164.0 L1036.4 164.0 L1039.4 164.2 L1042.4 164.4 L1045.4 164.8 L1048.4 165.3 L1051.4 165.8 L1054.4 166.4 L1057.4 167.1 L1060.4 167.9 L1063.4 169.1 L1066.4 170.6 L1069.4 172.4 L1072.4 174.4 L1075.4 176.4 L1078.4 178.4 L1081.4 180.4 L1084.4 182.4 L1087.4 184.6 L1090.4 186.8 L1093.4 189.1 L1096.4 191.5 L1099.4 194.0 L1102.4 196.5 L1105.4 199.2 L1108.4 202.1 L1111.4 205.0 L1114.4 208.0 L1117.4 211.0 L1120.5 214.2 L1123.5 217.4 L1126.5 220.8 L1129.5 224.2 L1132.5 227.6 L1135.5 230.9 L1138.5 234.4 L1141.5 237.8 L1144.5 241.2 L1147.5 244.7 L1150.5 248.3 L1153.5 251.8 L1156.5 255.4 L1159.5 259.1 L1162.5 262.8 L1165.5 266.6 L1168.5 270.4 L1171.5 274.4 L1174.5 278.4 L1177.5 282.5 L1180.5 286.7 L1183.5 291.0 L1186.5 295.3 L1189.5 299.7 L1192.5 304.1 L1195.5 308.6 L1198.5 313.1 L1201.5 317.6 L1204.5 322.2 L1207.5 326.8 L1210.6 331.5 L1213.6 336.1 L1216.6 340.8 L1219.6 345.5 L1222.6 350.3 L1225.6 355.0 L1228.6 359.8 L1231.6 364.5 L1234.6 369.3 L1237.6 374.1 L1240.6 378.9 L1243.6 383.7 L1246.6 388.5 L1249.6 393.3 L1252.6 398.0 L1255.6 402.8 L1258.6 407.6 L1261.6 412.3 L1264.6 417.0 L1267.6 421.7 L1270.6 426.4 L1273.6 431.2 L1276.6 435.9 L1279.6 440.6 L1282.6 445.3 L1285.6 450.0 L1288.6 454.7 L1291.6 459.4 L1294.6 464.1 L1297.6 468.8 L1300.6 473.5 L1303.7 478.2 L1306.7 482.9 L1309.7 487.6 L1312.7 492.4 L1315.7 497.1 L1318.7 501.8 L1321.7 506.5 L1324.7 511.2 L1327.7 516.0 L1330.7 520.7 L1333.7 525.4 L1336.7 530.2 L1339.7 534.9 L1342.7 539.7 L1345.7 544.4 L1348.7 549.2 L1351.7 553.9 L1354.7 558.7 L1357.7 563.5 L1360.7 568.2 L1363.7 573.0 L1366.7 577.8 L1369.7 582.6 L1372.7 587.4 L1375.7 592.2 L1378.7 597.0 L1381.7 601.8 L1384.7 606.6 L1387.7 611.4 L1390.7 616.2 L1393.8 621.1 L1396.8 625.9 L1399.8 630.8 L1402.8 635.6 L1405.8 640.5 L1408.8 645.4 L1411.8 650.2 L1414.8 655.1 L1417.8 660.0 L1420.8 664.9 L1423.8 669.8 L1426.8 674.7 L1429.8 679.7 L1432.8 684.6 L1435.8 689.6 L1438.8 694.5 L1441.8 699.5 L1444.8 704.5 L1447.8 709.6 L1450.8 714.6 L1453.8 719.7 L1456.8 724.7 L1459.8 729.8 L1462.8 734.9 L1465.8 740.0 L1468.8 745.1 L1471.8 750.3 L1474.8 755.4 L1477.8 760.5 L1480.8 765.7 L1483.8 770.8 L1486.9 776.0 L1489.9 781.1 L1492.9 786.3 L1495.9 791.5 L1498.9 796.6 L1501.9 801.8 L1504.9 806.9 L1507.9 812.1 L1510.9 817.2 L1513.9 822.4 L1516.9 827.5 L1519.9 832.6 L1522.9 837.8 L1525.9 842.9 L1528.9 848.0 L1531.9 853.1 L1534.9 858.1 L1537.9 863.2 L1540.9 868.3 L1543.9 873.3 L1546.9 878.3 L1549.9 883.3 L1552.9 888.3 L1555.9 893.3 L1558.9 898.2 L1561.9 903.2 L1564.9 908.1 L1567.9 913.0 L1570.9 918.0 L1573.9 922.9 L1577.0 927.8 L1580.0 932.7 L1583.0 937.6 L1586.0 942.4 L1589.0 947.3 L1592.0 952.1 L1595.0 957.0 L1598.0 961.7 L1601.0 966.5 L1604.0 971.3 L1607.0 976.0 L1610.0 980.7 L1613.0 985.4 L1616.0 990.0 L1619.0 994.5 L1622.0 999.0" stroke="#000" stroke-width="4.8" stroke-linecap="butt" stroke-dasharray="14.5 9.5"/>
</g>
<g class="frame-top">
<path d="M249.5 70.0 H1618.5 V1171.0 H249.5 Z" stroke="#3a3a3a" stroke-width="4.2" fill="none" stroke-linejoin="miter"/>
</g>
<g class="computed">
<text transform="translate(1041.5 980.8) scale(1 1.035)" class="b" style="letter-spacing:0.60px">Computed</text>
<path d="M893 1022 H999.5" stroke="#c2c2c2" stroke-width="6" fill="none"/>
<path d="M894 1022 H999" stroke="#2c2c2c" stroke-width="4.8" stroke-dasharray="4.8 6.07" fill="none"/>
<text transform="translate(1042.0 1038.8) scale(1 1.085)" style="letter-spacing:0.40px">surface temperature</text>
<path d="M894 1079.4 H1007" stroke="#242424" stroke-width="6.4" stroke-dasharray="14.5 9.5" fill="none"/>
<text transform="translate(1042.0 1096.3) scale(1 1.085)" style="letter-spacing:0.30px">axial temperature</text>
</g>
<g class="ticklabels">
<text transform="translate(249.0 1232.6) scale(1 1.085)" text-anchor="middle">0</text>
<text transform="translate(420.1 1232.6) scale(1 1.085)" text-anchor="middle">500</text>
<text transform="translate(591.2 1232.6) scale(1 1.085)" text-anchor="middle">1000</text>
<text transform="translate(762.4 1232.6) scale(1 1.085)" text-anchor="middle">1500</text>
<text transform="translate(933.5 1232.6) scale(1 1.085)" text-anchor="middle">2000</text>
<text transform="translate(1104.6 1232.6) scale(1 1.085)" text-anchor="middle">2500</text>
<text transform="translate(1275.8 1232.6) scale(1 1.085)" text-anchor="middle">3000</text>
<text transform="translate(1446.9 1232.6) scale(1 1.085)" text-anchor="middle">3500</text>
<text transform="translate(1618.0 1232.6) scale(1 1.085)" text-anchor="middle">4000</text>
<text transform="translate(225.0 1185.6) scale(1 1.085)" text-anchor="end">25</text>
<text transform="translate(225.0 965.4) scale(1 1.085)" text-anchor="end">30</text>
<text transform="translate(225.0 745.2) scale(1 1.085)" text-anchor="end">35</text>
<text transform="translate(225.0 525.0) scale(1 1.085)" text-anchor="end">40</text>
<text transform="translate(225.0 304.8) scale(1 1.085)" text-anchor="end">45</text>
<text transform="translate(225.0 84.6) scale(1 1.085)" text-anchor="end">50</text>
</g>
<g class="titles">
<text transform="translate(822.0 1320.3) scale(1 1.035)" class="t" style="letter-spacing:0.40px">Time&#160;&#160;[s]</text>
<text transform="translate(108.5 832.5) rotate(-90) scale(1 1.035)" class="t" style="letter-spacing:0.16px">Temperature&#160;&#160;[°C]</text>
</g>
</g>
</svg>
</body>
</html>
